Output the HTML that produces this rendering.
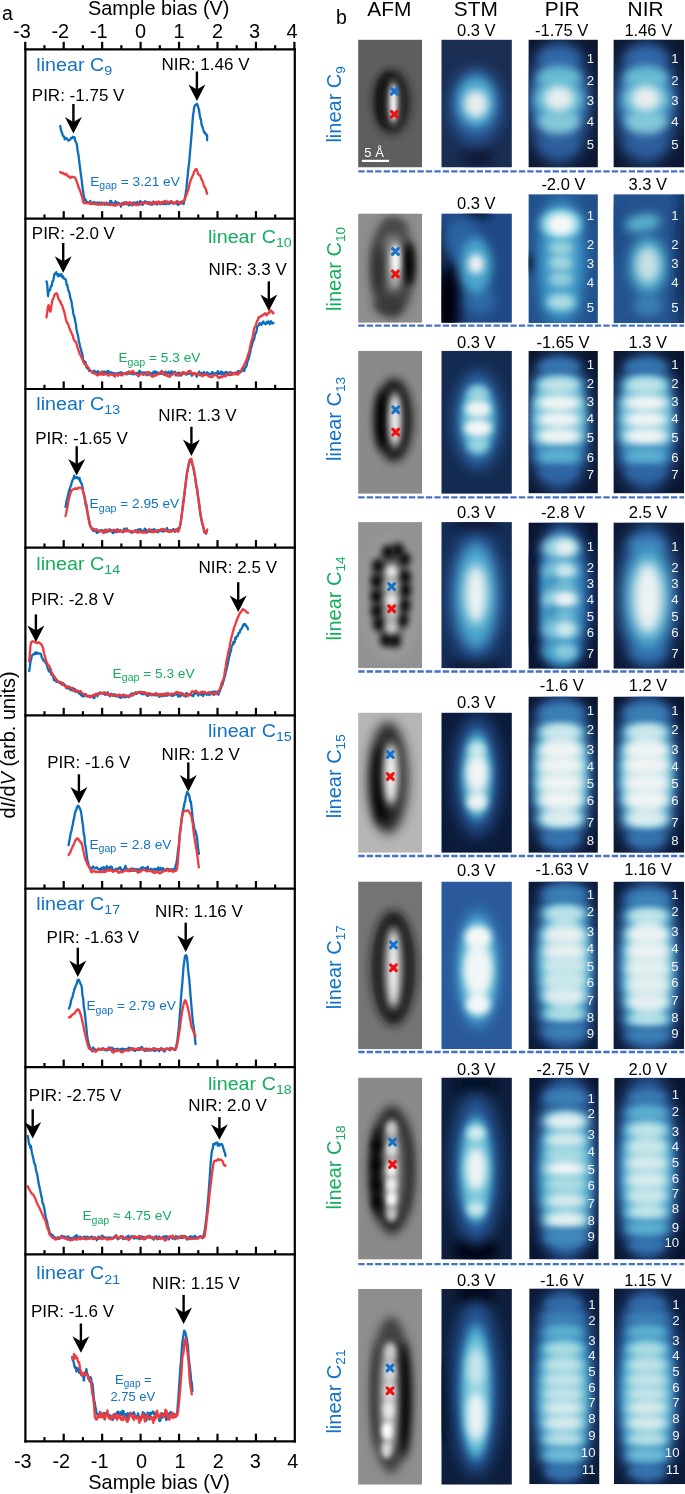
<!DOCTYPE html>
<html><head><meta charset="utf-8"><style>
html,body{margin:0;padding:0;background:#fff;width:685px;height:1494px;overflow:hidden;}
svg{display:block;font-family:"Liberation Sans",sans-serif;will-change:transform;}
</style></head><body>
<svg width="685" height="1494" viewBox="0 0 685 1494">
<defs><filter id="g2_2" x="-60%" y="-60%" width="220%" height="220%"><feGaussianBlur stdDeviation="2.2"/></filter><filter id="g2_6" x="-60%" y="-60%" width="220%" height="220%"><feGaussianBlur stdDeviation="2.6"/></filter><filter id="g2_8" x="-60%" y="-60%" width="220%" height="220%"><feGaussianBlur stdDeviation="2.8"/></filter><filter id="g2_9" x="-60%" y="-60%" width="220%" height="220%"><feGaussianBlur stdDeviation="2.9"/></filter><filter id="g3" x="-60%" y="-60%" width="220%" height="220%"><feGaussianBlur stdDeviation="3"/></filter><filter id="g3_4" x="-60%" y="-60%" width="220%" height="220%"><feGaussianBlur stdDeviation="3.4"/></filter><filter id="g3_5" x="-60%" y="-60%" width="220%" height="220%"><feGaussianBlur stdDeviation="3.5"/></filter><filter id="g3_6" x="-60%" y="-60%" width="220%" height="220%"><feGaussianBlur stdDeviation="3.6"/></filter><filter id="g3_8" x="-60%" y="-60%" width="220%" height="220%"><feGaussianBlur stdDeviation="3.8"/></filter><filter id="g4" x="-60%" y="-60%" width="220%" height="220%"><feGaussianBlur stdDeviation="4"/></filter><filter id="g4_5" x="-60%" y="-60%" width="220%" height="220%"><feGaussianBlur stdDeviation="4.5"/></filter><filter id="g4_8" x="-60%" y="-60%" width="220%" height="220%"><feGaussianBlur stdDeviation="4.8"/></filter><filter id="g5" x="-60%" y="-60%" width="220%" height="220%"><feGaussianBlur stdDeviation="5"/></filter><filter id="g5_5" x="-60%" y="-60%" width="220%" height="220%"><feGaussianBlur stdDeviation="5.5"/></filter><filter id="g6" x="-60%" y="-60%" width="220%" height="220%"><feGaussianBlur stdDeviation="6"/></filter><filter id="g6_5" x="-60%" y="-60%" width="220%" height="220%"><feGaussianBlur stdDeviation="6.5"/></filter><filter id="g7" x="-60%" y="-60%" width="220%" height="220%"><feGaussianBlur stdDeviation="7"/></filter><filter id="g8" x="-60%" y="-60%" width="220%" height="220%"><feGaussianBlur stdDeviation="8"/></filter><clipPath id="c1"><rect x="358.1" y="39.6" width="64.00" height="127.90"/></clipPath><clipPath id="c2"><rect x="441.3" y="39.6" width="70.60" height="127.90"/></clipPath><clipPath id="c3"><rect x="528.4" y="39.6" width="69.50" height="127.90"/></clipPath><clipPath id="c4"><rect x="613.4" y="39.6" width="70.80" height="127.90"/></clipPath><clipPath id="c5"><rect x="358.1" y="213.4" width="64.00" height="109.40"/></clipPath><clipPath id="c6"><rect x="441.3" y="213.4" width="70.60" height="109.40"/></clipPath><clipPath id="c7"><rect x="528.4" y="194.2" width="69.50" height="128.80"/></clipPath><clipPath id="c8"><rect x="613.4" y="194.2" width="70.80" height="128.80"/></clipPath><clipPath id="c9"><rect x="358.1" y="350.7" width="64.00" height="143.10"/></clipPath><clipPath id="c10"><rect x="441.3" y="350.7" width="70.60" height="143.10"/></clipPath><clipPath id="c11"><rect x="528.4" y="351.0" width="69.50" height="142.40"/></clipPath><clipPath id="c12"><rect x="613.4" y="351.0" width="70.80" height="142.40"/></clipPath><clipPath id="c13"><rect x="358.1" y="522.1" width="64.00" height="146.20"/></clipPath><clipPath id="c14"><rect x="441.3" y="522.1" width="70.60" height="146.20"/></clipPath><clipPath id="c15"><rect x="528.4" y="522.4" width="69.50" height="146.40"/></clipPath><clipPath id="c16"><rect x="613.4" y="522.4" width="70.80" height="146.40"/></clipPath><clipPath id="c17"><rect x="358.1" y="712.6" width="64.00" height="140.20"/></clipPath><clipPath id="c18"><rect x="441.3" y="712.6" width="70.60" height="140.20"/></clipPath><clipPath id="c19"><rect x="528.4" y="696.6" width="69.50" height="156.20"/></clipPath><clipPath id="c20"><rect x="613.4" y="696.6" width="70.80" height="156.20"/></clipPath><clipPath id="c21"><rect x="358.1" y="881.5" width="64.00" height="167.70"/></clipPath><clipPath id="c22"><rect x="441.3" y="881.5" width="70.60" height="167.70"/></clipPath><clipPath id="c23"><rect x="528.4" y="881.6" width="69.50" height="167.60"/></clipPath><clipPath id="c24"><rect x="613.4" y="881.6" width="70.80" height="167.60"/></clipPath><clipPath id="c25"><rect x="358.1" y="1077.5" width="64.00" height="182.10"/></clipPath><clipPath id="c26"><rect x="441.3" y="1077.5" width="70.60" height="182.10"/></clipPath><clipPath id="c27"><rect x="529.2" y="1077.8" width="69.50" height="181.60"/></clipPath><clipPath id="c28"><rect x="614.2" y="1077.8" width="70.80" height="181.60"/></clipPath><clipPath id="c29"><rect x="358.1" y="1289.0" width="64.00" height="195.70"/></clipPath><clipPath id="c30"><rect x="441.3" y="1289.0" width="70.60" height="195.70"/></clipPath><clipPath id="c31"><rect x="529.2" y="1288.4" width="70.30" height="195.80"/></clipPath><clipPath id="c32"><rect x="614.0" y="1288.4" width="71.00" height="195.80"/></clipPath></defs><g clip-path="url(#c1)"><rect x="358.1" y="39.6" width="64.00" height="127.90" fill="#5e5e5e"/><ellipse cx="392" cy="102" rx="18" ry="32" fill="#1a1a1a" filter="url(#g4_5)"/><ellipse cx="387" cy="100" rx="9" ry="26" fill="#0c0c0c" filter="url(#g4)"/><ellipse cx="393.3" cy="103" rx="7" ry="24" fill="#707070" filter="url(#g3)"/><ellipse cx="393.3" cy="103" rx="3.2" ry="18" fill="#ffffff" filter="url(#g2_2)"/></g><path d="M391.40000000000003,88.3 L397.2,94.10000000000001 M391.40000000000003,94.10000000000001 L397.2,88.3" stroke="#1673C9" stroke-width="3.1" stroke-linecap="round"/><path d="M391.40000000000003,111.3 L397.2,117.10000000000001 M391.40000000000003,117.10000000000001 L397.2,111.3" stroke="#F01010" stroke-width="3.1" stroke-linecap="round"/><line x1="361.9" y1="160.9" x2="389.1" y2="160.9" stroke="#fff" stroke-width="2.2"/><text x="364.3" y="156.6" font-size="13" fill="#fff">5 Å</text><g clip-path="url(#c2)"><rect x="441.3" y="39.6" width="70.60" height="127.90" fill="#1a2d53"/><ellipse cx="478" cy="158" rx="16" ry="7" fill="#0c1834" filter="url(#g4)"/><ellipse cx="476" cy="106" rx="27" ry="38" fill="#2b5d9c" filter="url(#g7)"/><ellipse cx="476" cy="102" rx="19" ry="26" fill="#4aa6cc" filter="url(#g5)"/><ellipse cx="476" cy="104" rx="12" ry="14" fill="#e8eeee" filter="url(#g4_5)"/></g><g clip-path="url(#c3)"><rect x="528.4" y="39.6" width="69.50" height="127.90" fill="#0c1730"/><ellipse cx="559" cy="103" rx="32" ry="62" fill="#2a5898" filter="url(#g8)"/><ellipse cx="559" cy="58" rx="21" ry="10" fill="#3268a8" filter="url(#g5)"/><ellipse cx="559" cy="143.5" rx="20" ry="10" fill="#2e5e9e" filter="url(#g5)"/><ellipse cx="559" cy="100" rx="26" ry="32" fill="#3f8cc0" filter="url(#g6)"/><ellipse cx="559" cy="77.5" rx="22" ry="11" fill="#66bcd2" filter="url(#g4_5)"/><ellipse cx="559" cy="121.5" rx="21" ry="12" fill="#84c8d8" filter="url(#g4_5)"/><ellipse cx="559" cy="99" rx="23" ry="16" fill="#74c4d8" filter="url(#g5)"/><ellipse cx="559" cy="98.5" rx="14" ry="12" fill="#e8eeee" filter="url(#g4_5)"/></g><g clip-path="url(#c4)"><rect x="613.4" y="39.6" width="70.80" height="127.90" fill="#0c1730"/><ellipse cx="646" cy="103" rx="32" ry="62" fill="#2a5898" filter="url(#g8)"/><ellipse cx="646" cy="58" rx="21" ry="10" fill="#3268a8" filter="url(#g5)"/><ellipse cx="646" cy="143.5" rx="20" ry="10" fill="#2e5e9e" filter="url(#g5)"/><ellipse cx="646" cy="100" rx="26" ry="32" fill="#3f8cc0" filter="url(#g6)"/><ellipse cx="646" cy="77.5" rx="22" ry="11" fill="#66bcd2" filter="url(#g4_5)"/><ellipse cx="646" cy="121.5" rx="21" ry="12" fill="#84c8d8" filter="url(#g4_5)"/><ellipse cx="646" cy="99" rx="23" ry="16" fill="#74c4d8" filter="url(#g5)"/><ellipse cx="646" cy="98.5" rx="14" ry="12" fill="#e8eeee" filter="url(#g4_5)"/></g><text x="594.2" y="63.3" font-size="13.2" fill="#f2f2f2" text-anchor="end">1</text><text x="594.2" y="84.6" font-size="13.2" fill="#f2f2f2" text-anchor="end">2</text><text x="594.2" y="104.5" font-size="13.2" fill="#f2f2f2" text-anchor="end">3</text><text x="594.2" y="125.5" font-size="13.2" fill="#f2f2f2" text-anchor="end">4</text><text x="594.2" y="148.5" font-size="13.2" fill="#f2f2f2" text-anchor="end">5</text><text x="678.6" y="63.3" font-size="13.2" fill="#f2f2f2" text-anchor="end">1</text><text x="678.6" y="84.6" font-size="13.2" fill="#f2f2f2" text-anchor="end">2</text><text x="678.6" y="104.5" font-size="13.2" fill="#f2f2f2" text-anchor="end">3</text><text x="678.6" y="125.5" font-size="13.2" fill="#f2f2f2" text-anchor="end">4</text><text x="678.6" y="148.5" font-size="13.2" fill="#f2f2f2" text-anchor="end">5</text><g clip-path="url(#c5)"><rect x="358.1" y="213.4" width="64.00" height="109.40" fill="#8e8e8e"/><ellipse cx="392" cy="268" rx="22" ry="50" fill="#3c3c3c" filter="url(#g5)"/><ellipse cx="393" cy="262" rx="13" ry="32" fill="#7c7c7c" filter="url(#g5)"/><ellipse cx="409" cy="264" rx="5.5" ry="22" fill="#050505" filter="url(#g3_5)"/><ellipse cx="379" cy="268" rx="5" ry="24" fill="#2c2c2c" filter="url(#g4)"/><ellipse cx="388" cy="306" rx="14" ry="7" fill="#383838" filter="url(#g4)"/><ellipse cx="395" cy="226" rx="12" ry="6" fill="#4a4a4a" filter="url(#g4)"/><ellipse cx="395" cy="265" rx="5" ry="22" fill="#b8b8b8" filter="url(#g3)"/><ellipse cx="395.5" cy="260" rx="3.8" ry="15" fill="#fdfdfd" filter="url(#g2_6)"/></g><path d="M392.5,248.5 L398.29999999999995,254.3 M392.5,254.3 L398.29999999999995,248.5" stroke="#1673C9" stroke-width="3.1" stroke-linecap="round"/><path d="M392.5,271.0 L398.29999999999995,276.79999999999995 M392.5,276.79999999999995 L398.29999999999995,271.0" stroke="#F01010" stroke-width="3.1" stroke-linecap="round"/><g clip-path="url(#c6)"><rect x="441.3" y="213.4" width="70.60" height="109.40" fill="#1f4a86"/><ellipse cx="448" cy="302" rx="13" ry="40" fill="#000308" filter="url(#g6)"/><ellipse cx="443" cy="250" rx="5" ry="25" fill="#0a1a30" filter="url(#g5)"/><ellipse cx="478" cy="213" rx="14" ry="6" fill="#0b1a38" filter="url(#g4)"/><ellipse cx="462" cy="238" rx="18" ry="20" fill="#2a64a2" filter="url(#g6)"/><ellipse cx="480" cy="300" rx="15" ry="15" fill="#2f6aa8" filter="url(#g6)"/><ellipse cx="476" cy="266" rx="16" ry="28" fill="#48a6cc" filter="url(#g5)"/><ellipse cx="476" cy="264" rx="8" ry="10" fill="#eef2f2" filter="url(#g3_5)"/></g><g clip-path="url(#c7)"><rect x="528.4" y="194.2" width="69.50" height="128.80" fill="#21508c"/><ellipse cx="531" cy="263" rx="5" ry="10" fill="#06122a" filter="url(#g4)"/><ellipse cx="561" cy="263.0" rx="24" ry="70" fill="#3480b8" filter="url(#g8)"/><ellipse cx="561" cy="263.0" rx="20" ry="48.0" fill="#3c94c6" filter="url(#g5)"/><ellipse cx="561" cy="224" rx="18.525" ry="11.6" fill="#89c9db" filter="url(#g5)"/><ellipse cx="561" cy="248" rx="15.600000000000001" ry="11.6" fill="#469cc6" filter="url(#g5)"/><ellipse cx="561" cy="263" rx="15.600000000000001" ry="11.6" fill="#479fc8" filter="url(#g5)"/><ellipse cx="561" cy="279" rx="15.600000000000001" ry="11.6" fill="#4498c4" filter="url(#g5)"/><ellipse cx="561" cy="302" rx="17.55" ry="11.6" fill="#4aa5cb" filter="url(#g5)"/><ellipse cx="561" cy="224" rx="14.25" ry="8" fill="#f0f4f4" filter="url(#g3_8)"/><ellipse cx="561" cy="248" rx="12.0" ry="8" fill="#97d2de" filter="url(#g3_8)"/><ellipse cx="561" cy="263" rx="12.0" ry="8" fill="#9fd6e0" filter="url(#g3_8)"/><ellipse cx="561" cy="279" rx="12.0" ry="8" fill="#90cedd" filter="url(#g3_8)"/><ellipse cx="561" cy="302" rx="13.5" ry="8" fill="#abdce3" filter="url(#g3_8)"/><ellipse cx="561" cy="224" rx="20" ry="15" fill="#6cc8dc" filter="url(#g5)"/><ellipse cx="561" cy="224.5" rx="14" ry="11" fill="#f6f8f8" filter="url(#g3_8)"/></g><g clip-path="url(#c8)"><rect x="613.4" y="194.2" width="70.80" height="128.80" fill="#24538f"/><ellipse cx="686" cy="260" rx="8" ry="80" fill="#0e1e40" filter="url(#g7)"/><ellipse cx="616" cy="230" rx="6" ry="30" fill="#1e4a86" filter="url(#g6)"/><ellipse cx="643" cy="223" rx="18" ry="9" fill="#58b0cc" filter="url(#g5)" transform="rotate(-10 643 223)"/><ellipse cx="648" cy="306" rx="15" ry="10" fill="#3a80b4" filter="url(#g5)"/><ellipse cx="648" cy="266" rx="19" ry="30" fill="#46a4c8" filter="url(#g6)"/><ellipse cx="648" cy="265" rx="12" ry="18" fill="#c4e0e4" filter="url(#g5)"/></g><text x="594.2" y="220.4" font-size="13.2" fill="#f2f2f2" text-anchor="end">1</text><text x="594.2" y="248.7" font-size="13.2" fill="#f2f2f2" text-anchor="end">2</text><text x="594.2" y="268.4" font-size="13.2" fill="#f2f2f2" text-anchor="end">3</text><text x="594.2" y="287.0" font-size="13.2" fill="#f2f2f2" text-anchor="end">4</text><text x="594.2" y="311.6" font-size="13.2" fill="#f2f2f2" text-anchor="end">5</text><text x="678.6" y="220.4" font-size="13.2" fill="#f2f2f2" text-anchor="end">1</text><text x="678.6" y="248.7" font-size="13.2" fill="#f2f2f2" text-anchor="end">2</text><text x="678.6" y="268.4" font-size="13.2" fill="#f2f2f2" text-anchor="end">3</text><text x="678.6" y="287.0" font-size="13.2" fill="#f2f2f2" text-anchor="end">4</text><text x="678.6" y="311.6" font-size="13.2" fill="#f2f2f2" text-anchor="end">5</text><g clip-path="url(#c9)"><rect x="358.1" y="350.7" width="64.00" height="143.10" fill="#8a8a8a"/><ellipse cx="394" cy="420" rx="19" ry="42" fill="#1c1c1c" filter="url(#g4_5)"/><ellipse cx="382" cy="420" rx="6" ry="30" fill="#000" filter="url(#g4)"/><ellipse cx="395" cy="420" rx="8" ry="30" fill="#777" filter="url(#g3)"/><ellipse cx="395" cy="420" rx="4.5" ry="24" fill="#f6f6f6" filter="url(#g3)"/></g><path d="M392.8,406.90000000000003 L398.59999999999997,412.7 M392.8,412.7 L398.59999999999997,406.90000000000003" stroke="#1673C9" stroke-width="3.1" stroke-linecap="round"/><path d="M392.8,429.20000000000005 L398.59999999999997,435.0 M392.8,435.0 L398.59999999999997,429.20000000000005" stroke="#F01010" stroke-width="3.1" stroke-linecap="round"/><g clip-path="url(#c10)"><rect x="441.3" y="350.7" width="70.60" height="143.10" fill="#142a50"/><ellipse cx="478" cy="420" rx="25" ry="50" fill="#2a5d9c" filter="url(#g7)"/><ellipse cx="478" cy="420" rx="17" ry="36" fill="#4aa8cc" filter="url(#g4_5)"/><ellipse cx="478" cy="418" rx="13" ry="28" fill="#70c0d8" filter="url(#g4)"/><ellipse cx="478" cy="394" rx="10" ry="7.5" fill="#9ad4e0" filter="url(#g3_5)"/><ellipse cx="478" cy="445" rx="10" ry="7.5" fill="#9ad4e0" filter="url(#g3_5)"/><ellipse cx="478" cy="409" rx="12.5" ry="8.5" fill="#f0f4f4" filter="url(#g3_4)"/><ellipse cx="478" cy="428" rx="13.5" ry="8.5" fill="#f4f6f6" filter="url(#g3_4)"/></g><g clip-path="url(#c11)"><rect x="528.4" y="351.0" width="69.50" height="142.40" fill="#0b1630"/><ellipse cx="559" cy="423" rx="33" ry="70" fill="#2a5a9a" filter="url(#g8)"/><ellipse cx="559" cy="420.7" rx="26" ry="44.5" fill="#44a4ca" filter="url(#g5)"/><ellipse cx="559" cy="385.2" rx="25.35" ry="11.6" fill="#5bb0d0" filter="url(#g4_8)"/><ellipse cx="559" cy="403" rx="26.617500000000003" ry="11.6" fill="#89c9db" filter="url(#g4_8)"/><ellipse cx="559" cy="419.5" rx="26.617500000000003" ry="11.6" fill="#89c9db" filter="url(#g4_8)"/><ellipse cx="559" cy="436" rx="26.617500000000003" ry="11.6" fill="#89c9db" filter="url(#g4_8)"/><ellipse cx="559" cy="456.2" rx="25.35" ry="11.6" fill="#3b82b7" filter="url(#g4_8)"/><ellipse cx="559" cy="410.6" rx="20" ry="29.400000000000006" fill="#78c4d8" filter="url(#g4_5)"/><ellipse cx="559" cy="366.3" rx="21.450000000000003" ry="8" fill="#3575af" filter="url(#g3_6)"/><ellipse cx="559" cy="385.2" rx="19.5" ry="8" fill="#bfe3e8" filter="url(#g3_6)"/><ellipse cx="559" cy="403" rx="20.475" ry="8" fill="#f0f4f4" filter="url(#g3_6)"/><ellipse cx="559" cy="419.5" rx="20.475" ry="8" fill="#f0f4f4" filter="url(#g3_6)"/><ellipse cx="559" cy="436" rx="20.475" ry="8" fill="#f0f4f4" filter="url(#g3_6)"/><ellipse cx="559" cy="456.2" rx="19.5" ry="8" fill="#5cb0d0" filter="url(#g3_6)"/><ellipse cx="559" cy="472.7" rx="19.5" ry="8" fill="#2f66a6" filter="url(#g3_6)"/></g><g clip-path="url(#c12)"><rect x="613.4" y="351.0" width="70.80" height="142.40" fill="#0b1630"/><ellipse cx="645.8" cy="423" rx="33" ry="70" fill="#2a5a9a" filter="url(#g8)"/><ellipse cx="645.8" cy="420.7" rx="26" ry="44.5" fill="#44a4ca" filter="url(#g5)"/><ellipse cx="645.8" cy="385.2" rx="25.35" ry="11.6" fill="#5bb0d0" filter="url(#g4_8)"/><ellipse cx="645.8" cy="403" rx="26.617500000000003" ry="11.6" fill="#89c9db" filter="url(#g4_8)"/><ellipse cx="645.8" cy="419.5" rx="26.617500000000003" ry="11.6" fill="#89c9db" filter="url(#g4_8)"/><ellipse cx="645.8" cy="436" rx="26.617500000000003" ry="11.6" fill="#89c9db" filter="url(#g4_8)"/><ellipse cx="645.8" cy="456.2" rx="25.35" ry="11.6" fill="#3b82b7" filter="url(#g4_8)"/><ellipse cx="645.8" cy="410.6" rx="20" ry="29.400000000000006" fill="#78c4d8" filter="url(#g4_5)"/><ellipse cx="645.8" cy="366.3" rx="21.450000000000003" ry="8" fill="#3575af" filter="url(#g3_6)"/><ellipse cx="645.8" cy="385.2" rx="19.5" ry="8" fill="#bfe3e8" filter="url(#g3_6)"/><ellipse cx="645.8" cy="403" rx="20.475" ry="8" fill="#f0f4f4" filter="url(#g3_6)"/><ellipse cx="645.8" cy="419.5" rx="20.475" ry="8" fill="#f0f4f4" filter="url(#g3_6)"/><ellipse cx="645.8" cy="436" rx="20.475" ry="8" fill="#f0f4f4" filter="url(#g3_6)"/><ellipse cx="645.8" cy="456.2" rx="19.5" ry="8" fill="#5cb0d0" filter="url(#g3_6)"/><ellipse cx="645.8" cy="472.7" rx="19.5" ry="8" fill="#2f66a6" filter="url(#g3_6)"/></g><text x="594.2" y="368.6" font-size="13.2" fill="#f2f2f2" text-anchor="end">1</text><text x="594.2" y="387.5" font-size="13.2" fill="#f2f2f2" text-anchor="end">2</text><text x="594.2" y="405.6" font-size="13.2" fill="#f2f2f2" text-anchor="end">3</text><text x="594.2" y="423.2" font-size="13.2" fill="#f2f2f2" text-anchor="end">4</text><text x="594.2" y="442.0" font-size="13.2" fill="#f2f2f2" text-anchor="end">5</text><text x="594.2" y="462.3" font-size="13.2" fill="#f2f2f2" text-anchor="end">6</text><text x="594.2" y="479.3" font-size="13.2" fill="#f2f2f2" text-anchor="end">7</text><text x="678.6" y="368.6" font-size="13.2" fill="#f2f2f2" text-anchor="end">1</text><text x="678.6" y="387.5" font-size="13.2" fill="#f2f2f2" text-anchor="end">2</text><text x="678.6" y="405.6" font-size="13.2" fill="#f2f2f2" text-anchor="end">3</text><text x="678.6" y="423.2" font-size="13.2" fill="#f2f2f2" text-anchor="end">4</text><text x="678.6" y="442.0" font-size="13.2" fill="#f2f2f2" text-anchor="end">5</text><text x="678.6" y="462.3" font-size="13.2" fill="#f2f2f2" text-anchor="end">6</text><text x="678.6" y="479.3" font-size="13.2" fill="#f2f2f2" text-anchor="end">7</text><g clip-path="url(#c13)"><rect x="358.1" y="522.1" width="64.00" height="146.20" fill="#929292"/><ellipse cx="391" cy="598" rx="26" ry="58" fill="#a4a4a4" filter="url(#g7)"/><ellipse cx="391" cy="596" rx="19" ry="46" fill="#606060" filter="url(#g5)"/><ellipse cx="378" cy="566" rx="6" ry="7" fill="#000000" filter="url(#g3_6)"/><ellipse cx="376.6" cy="581" rx="6" ry="7" fill="#000000" filter="url(#g3_6)"/><ellipse cx="376.6" cy="596.4" rx="6" ry="7" fill="#000000" filter="url(#g3_6)"/><ellipse cx="377" cy="611" rx="6" ry="7" fill="#000000" filter="url(#g3_6)"/><ellipse cx="379" cy="624" rx="6" ry="7" fill="#000000" filter="url(#g3_6)"/><ellipse cx="404.5" cy="559.2" rx="6" ry="7" fill="#000000" filter="url(#g3_6)"/><ellipse cx="405" cy="576.8" rx="6" ry="7" fill="#000000" filter="url(#g3_6)"/><ellipse cx="405" cy="590.2" rx="6" ry="7" fill="#000000" filter="url(#g3_6)"/><ellipse cx="404" cy="605.6" rx="6" ry="7" fill="#000000" filter="url(#g3_6)"/><ellipse cx="402" cy="620" rx="6" ry="7" fill="#000000" filter="url(#g3_6)"/><ellipse cx="386" cy="640" rx="6" ry="7" fill="#000000" filter="url(#g3_6)"/><ellipse cx="395" cy="641" rx="6" ry="7" fill="#000000" filter="url(#g3_6)"/><ellipse cx="388" cy="552" rx="6" ry="7" fill="#000000" filter="url(#g3_6)"/><ellipse cx="398" cy="550" rx="6" ry="7" fill="#000000" filter="url(#g3_6)"/><ellipse cx="391.6" cy="599" rx="6" ry="30" fill="#a0a0a0" filter="url(#g4)"/><ellipse cx="391.6" cy="571.6" rx="6" ry="6.5" fill="#f0f0f0" filter="url(#g3)"/><ellipse cx="391.6" cy="586" rx="6" ry="6.5" fill="#d0d0d0" filter="url(#g3)"/><ellipse cx="391.6" cy="600.5" rx="6" ry="6.5" fill="#f4f4f4" filter="url(#g3)"/><ellipse cx="391.6" cy="614" rx="6" ry="6.5" fill="#c0c0c0" filter="url(#g3)"/><ellipse cx="391.6" cy="627.3" rx="6" ry="6.5" fill="#d0d0d0" filter="url(#g3)"/></g><path d="M388.70000000000005,583.7 L394.5,589.5 M388.70000000000005,589.5 L394.5,583.7" stroke="#1673C9" stroke-width="3.1" stroke-linecap="round"/><path d="M388.70000000000005,605.8000000000001 L394.5,611.6 M388.70000000000005,611.6 L394.5,605.8000000000001" stroke="#F01010" stroke-width="3.1" stroke-linecap="round"/><g clip-path="url(#c14)"><rect x="441.3" y="522.1" width="70.60" height="146.20" fill="#142c55"/><ellipse cx="476" cy="525" rx="20" ry="8" fill="#081530" filter="url(#g4)"/><ellipse cx="476" cy="666" rx="25" ry="8" fill="#081530" filter="url(#g4)"/><ellipse cx="476" cy="596" rx="28" ry="64" fill="#2a5c9c" filter="url(#g8)"/><ellipse cx="476" cy="596" rx="20" ry="52" fill="#4aa8cc" filter="url(#g6)"/><ellipse cx="476" cy="594" rx="11" ry="30" fill="#f0f4f4" filter="url(#g5_5)"/></g><g clip-path="url(#c15)"><rect x="528.4" y="522.4" width="69.50" height="146.40" fill="#0a1430"/><ellipse cx="563" cy="596" rx="30" ry="76" fill="#24508e" filter="url(#g8)"/><ellipse cx="562" cy="598" rx="21" ry="68" fill="#3a8cc2" filter="url(#g6)"/><ellipse cx="531" cy="600" rx="5" ry="50" fill="#070f24" filter="url(#g4)"/><ellipse cx="561" cy="547.6" rx="19" ry="11" fill="#99d3df" filter="url(#g4_5)"/><ellipse cx="561" cy="571.2" rx="19" ry="11" fill="#7fc4d9" filter="url(#g4_5)"/><ellipse cx="561" cy="585.4" rx="19" ry="11" fill="#4395c2" filter="url(#g4_5)"/><ellipse cx="561" cy="599.6" rx="19" ry="11" fill="#9ed6e0" filter="url(#g4_5)"/><ellipse cx="561" cy="615" rx="19" ry="11" fill="#4395c2" filter="url(#g4_5)"/><ellipse cx="561" cy="629.2" rx="19" ry="11" fill="#7fc4d9" filter="url(#g4_5)"/><ellipse cx="561" cy="651.6" rx="19" ry="11" fill="#48a2ca" filter="url(#g4_5)"/><ellipse cx="565" cy="547.6" rx="9.9" ry="7.5" fill="#e4f0f1" filter="url(#g3_4)"/><ellipse cx="565" cy="571.2" rx="9.35" ry="7.5" fill="#cbe7eb" filter="url(#g3_4)"/><ellipse cx="565" cy="585.4" rx="8.8" ry="7.5" fill="#6fbbd5" filter="url(#g3_4)"/><ellipse cx="565" cy="599.6" rx="9.9" ry="7.5" fill="#e9f1f2" filter="url(#g3_4)"/><ellipse cx="565" cy="615" rx="8.8" ry="7.5" fill="#6fbbd5" filter="url(#g3_4)"/><ellipse cx="565" cy="629.2" rx="9.35" ry="7.5" fill="#cbe7eb" filter="url(#g3_4)"/><ellipse cx="565" cy="651.6" rx="10.45" ry="7.5" fill="#89c9db" filter="url(#g3_4)"/></g><g clip-path="url(#c16)"><rect x="613.4" y="522.4" width="70.80" height="146.40" fill="#0c1834"/><ellipse cx="648" cy="596" rx="31" ry="74" fill="#2a5a98" filter="url(#g8)"/><ellipse cx="646" cy="545" rx="18" ry="10" fill="#3a7cb8" filter="url(#g5)"/><ellipse cx="648" cy="652" rx="18" ry="10" fill="#2e68a8" filter="url(#g5)"/><ellipse cx="648" cy="598" rx="23" ry="52" fill="#4aa8cc" filter="url(#g6_5)"/><ellipse cx="648" cy="598" rx="15" ry="36" fill="#eef3f3" filter="url(#g6)"/></g><text x="594.2" y="551.3" font-size="13.2" fill="#f2f2f2" text-anchor="end">1</text><text x="594.2" y="571.8" font-size="13.2" fill="#f2f2f2" text-anchor="end">2</text><text x="594.2" y="587.8" font-size="13.2" fill="#f2f2f2" text-anchor="end">3</text><text x="594.2" y="604.0" font-size="13.2" fill="#f2f2f2" text-anchor="end">4</text><text x="594.2" y="621.0" font-size="13.2" fill="#f2f2f2" text-anchor="end">5</text><text x="594.2" y="636.6" font-size="13.2" fill="#f2f2f2" text-anchor="end">6</text><text x="594.2" y="658.0" font-size="13.2" fill="#f2f2f2" text-anchor="end">7</text><text x="678.6" y="551.3" font-size="13.2" fill="#f2f2f2" text-anchor="end">1</text><text x="678.6" y="571.8" font-size="13.2" fill="#f2f2f2" text-anchor="end">2</text><text x="678.6" y="587.8" font-size="13.2" fill="#f2f2f2" text-anchor="end">3</text><text x="678.6" y="604.0" font-size="13.2" fill="#f2f2f2" text-anchor="end">4</text><text x="678.6" y="621.0" font-size="13.2" fill="#f2f2f2" text-anchor="end">5</text><text x="678.6" y="636.6" font-size="13.2" fill="#f2f2f2" text-anchor="end">6</text><text x="678.6" y="658.0" font-size="13.2" fill="#f2f2f2" text-anchor="end">7</text><g clip-path="url(#c17)"><rect x="358.1" y="712.6" width="64.00" height="140.20" fill="#b6b6b6"/><ellipse cx="388" cy="778" rx="20" ry="56" fill="#262626" filter="url(#g6)"/><ellipse cx="381" cy="785" rx="8" ry="40" fill="#000" filter="url(#g5)"/><ellipse cx="391" cy="774" rx="9" ry="34" fill="#8a8a8a" filter="url(#g4)"/><ellipse cx="391" cy="774" rx="5" ry="28" fill="#fafafa" filter="url(#g3_5)"/></g><path d="M387.40000000000003,751.6 L393.2,757.4 M387.40000000000003,757.4 L393.2,751.6" stroke="#1673C9" stroke-width="3.1" stroke-linecap="round"/><path d="M387.40000000000003,773.6 L393.2,779.4 M387.40000000000003,779.4 L393.2,773.6" stroke="#F01010" stroke-width="3.1" stroke-linecap="round"/><g clip-path="url(#c18)"><rect x="441.3" y="712.6" width="70.60" height="140.20" fill="#0c1a3a"/><ellipse cx="477" cy="776" rx="23" ry="60" fill="#265494" filter="url(#g8)"/><ellipse cx="477" cy="776" rx="15" ry="44" fill="#4aaccc" filter="url(#g4_5)"/><ellipse cx="477" cy="776" rx="9" ry="32" fill="#b8dee6" filter="url(#g4)"/><ellipse cx="477" cy="749" rx="8" ry="7" fill="#c8e8ec" filter="url(#g3_5)"/><ellipse cx="477" cy="773" rx="10" ry="17" fill="#f4f6f6" filter="url(#g4)"/><ellipse cx="477" cy="802" rx="10" ry="9" fill="#f0f4f4" filter="url(#g3_5)"/></g><g clip-path="url(#c19)"><rect x="528.4" y="696.6" width="69.50" height="156.20" fill="#0b1630"/><ellipse cx="561" cy="775" rx="33" ry="82" fill="#2a5a9a" filter="url(#g8)"/><ellipse cx="561" cy="775.35" rx="26" ry="52.14999999999998" fill="#4aaed0" filter="url(#g5)"/><ellipse cx="561" cy="713.3" rx="25.35" ry="11.889999999999999" fill="#2e63a2" filter="url(#g5)"/><ellipse cx="561" cy="732.2" rx="25.35" ry="11.889999999999999" fill="#66b6d3" filter="url(#g5)"/><ellipse cx="561" cy="750" rx="26.617500000000003" ry="11.889999999999999" fill="#89c9db" filter="url(#g5)"/><ellipse cx="561" cy="765.3" rx="26.617500000000003" ry="11.889999999999999" fill="#89c9db" filter="url(#g5)"/><ellipse cx="561" cy="783" rx="26.617500000000003" ry="11.889999999999999" fill="#89c9db" filter="url(#g5)"/><ellipse cx="561" cy="799.6" rx="26.617500000000003" ry="11.889999999999999" fill="#89c9db" filter="url(#g5)"/><ellipse cx="561" cy="818.5" rx="25.35" ry="11.889999999999999" fill="#76bfd7" filter="url(#g5)"/><ellipse cx="561" cy="775.35" rx="21" ry="47.14999999999998" fill="#c4e2e8" filter="url(#g4_5)"/><ellipse cx="561" cy="713.3" rx="19.5" ry="8.2" fill="#3a80b5" filter="url(#g3_8)"/><ellipse cx="561" cy="732.2" rx="19.5" ry="8.2" fill="#cbe7eb" filter="url(#g3_8)"/><ellipse cx="561" cy="750" rx="20.475" ry="8.2" fill="#f0f4f4" filter="url(#g3_8)"/><ellipse cx="561" cy="765.3" rx="20.475" ry="8.2" fill="#f0f4f4" filter="url(#g3_8)"/><ellipse cx="561" cy="783" rx="20.475" ry="8.2" fill="#f0f4f4" filter="url(#g3_8)"/><ellipse cx="561" cy="799.6" rx="20.475" ry="8.2" fill="#f0f4f4" filter="url(#g3_8)"/><ellipse cx="561" cy="818.5" rx="19.5" ry="8.2" fill="#dcedef" filter="url(#g3_8)"/><ellipse cx="561" cy="838.6" rx="19.5" ry="8.2" fill="#3473ae" filter="url(#g3_8)"/></g><g clip-path="url(#c20)"><rect x="613.4" y="696.6" width="70.80" height="156.20" fill="#0b1630"/><ellipse cx="646.5" cy="775" rx="33" ry="82" fill="#2a5a9a" filter="url(#g8)"/><ellipse cx="646.5" cy="775.35" rx="26" ry="52.14999999999998" fill="#4aaed0" filter="url(#g5)"/><ellipse cx="646.5" cy="713.3" rx="25.35" ry="11.889999999999999" fill="#2e63a2" filter="url(#g5)"/><ellipse cx="646.5" cy="732.2" rx="25.35" ry="11.889999999999999" fill="#66b6d3" filter="url(#g5)"/><ellipse cx="646.5" cy="750" rx="26.617500000000003" ry="11.889999999999999" fill="#89c9db" filter="url(#g5)"/><ellipse cx="646.5" cy="765.3" rx="26.617500000000003" ry="11.889999999999999" fill="#89c9db" filter="url(#g5)"/><ellipse cx="646.5" cy="783" rx="26.617500000000003" ry="11.889999999999999" fill="#89c9db" filter="url(#g5)"/><ellipse cx="646.5" cy="799.6" rx="26.617500000000003" ry="11.889999999999999" fill="#89c9db" filter="url(#g5)"/><ellipse cx="646.5" cy="818.5" rx="25.35" ry="11.889999999999999" fill="#76bfd7" filter="url(#g5)"/><ellipse cx="646.5" cy="775.35" rx="21" ry="47.14999999999998" fill="#c8e4ea" filter="url(#g4_5)"/><ellipse cx="646.5" cy="713.3" rx="19.5" ry="8.2" fill="#3a80b5" filter="url(#g3_8)"/><ellipse cx="646.5" cy="732.2" rx="19.5" ry="8.2" fill="#cbe7eb" filter="url(#g3_8)"/><ellipse cx="646.5" cy="750" rx="20.475" ry="8.2" fill="#f0f4f4" filter="url(#g3_8)"/><ellipse cx="646.5" cy="765.3" rx="20.475" ry="8.2" fill="#f0f4f4" filter="url(#g3_8)"/><ellipse cx="646.5" cy="783" rx="20.475" ry="8.2" fill="#f0f4f4" filter="url(#g3_8)"/><ellipse cx="646.5" cy="799.6" rx="20.475" ry="8.2" fill="#f0f4f4" filter="url(#g3_8)"/><ellipse cx="646.5" cy="818.5" rx="19.5" ry="8.2" fill="#dcedef" filter="url(#g3_8)"/><ellipse cx="646.5" cy="838.6" rx="19.5" ry="8.2" fill="#3473ae" filter="url(#g3_8)"/></g><text x="594.2" y="715.0" font-size="13.2" fill="#f2f2f2" text-anchor="end">1</text><text x="594.2" y="733.9" font-size="13.2" fill="#f2f2f2" text-anchor="end">2</text><text x="594.2" y="754.1" font-size="13.2" fill="#f2f2f2" text-anchor="end">3</text><text x="594.2" y="770.9" font-size="13.2" fill="#f2f2f2" text-anchor="end">4</text><text x="594.2" y="787.9" font-size="13.2" fill="#f2f2f2" text-anchor="end">5</text><text x="594.2" y="804.6" font-size="13.2" fill="#f2f2f2" text-anchor="end">6</text><text x="594.2" y="826.5" font-size="13.2" fill="#f2f2f2" text-anchor="end">7</text><text x="594.2" y="845.4" font-size="13.2" fill="#f2f2f2" text-anchor="end">8</text><text x="678.6" y="715.0" font-size="13.2" fill="#f2f2f2" text-anchor="end">1</text><text x="678.6" y="733.9" font-size="13.2" fill="#f2f2f2" text-anchor="end">2</text><text x="678.6" y="754.1" font-size="13.2" fill="#f2f2f2" text-anchor="end">3</text><text x="678.6" y="770.9" font-size="13.2" fill="#f2f2f2" text-anchor="end">4</text><text x="678.6" y="787.9" font-size="13.2" fill="#f2f2f2" text-anchor="end">5</text><text x="678.6" y="804.6" font-size="13.2" fill="#f2f2f2" text-anchor="end">6</text><text x="678.6" y="826.5" font-size="13.2" fill="#f2f2f2" text-anchor="end">7</text><text x="678.6" y="845.4" font-size="13.2" fill="#f2f2f2" text-anchor="end">8</text><g clip-path="url(#c21)"><rect x="358.1" y="881.5" width="64.00" height="167.70" fill="#747474"/><ellipse cx="393.4" cy="968" rx="22" ry="57" fill="#121212" filter="url(#g5)"/><ellipse cx="393.4" cy="968" rx="11" ry="44" fill="#6a6a6a" filter="url(#g4)"/><ellipse cx="393.4" cy="968" rx="5.5" ry="38" fill="#f4f4f4" filter="url(#g3_5)"/></g><path d="M390.5,942.0 L396.29999999999995,947.8 M390.5,947.8 L396.29999999999995,942.0" stroke="#1673C9" stroke-width="3.1" stroke-linecap="round"/><path d="M390.5,964.8000000000001 L396.29999999999995,970.6 M390.5,970.6 L396.29999999999995,964.8000000000001" stroke="#F01010" stroke-width="3.1" stroke-linecap="round"/><g clip-path="url(#c22)"><rect x="441.3" y="881.5" width="70.60" height="167.70" fill="#2a5a9c"/><ellipse cx="478" cy="969" rx="22" ry="60" fill="#3c88c0" filter="url(#g6)"/><ellipse cx="478" cy="969" rx="18" ry="50" fill="#58b8d6" filter="url(#g4_5)"/><ellipse cx="478" cy="970" rx="12" ry="38" fill="#d8eef0" filter="url(#g4)"/><ellipse cx="478" cy="937" rx="13" ry="11" fill="#f6f8f8" filter="url(#g3_5)"/><ellipse cx="478" cy="970" rx="13" ry="22" fill="#f2f6f6" filter="url(#g4)"/><ellipse cx="478" cy="1005" rx="12" ry="10" fill="#f6f8f8" filter="url(#g3_5)"/></g><g clip-path="url(#c23)"><rect x="528.4" y="881.6" width="69.50" height="167.60" fill="#0c1a38"/><ellipse cx="564.5" cy="966" rx="33" ry="88" fill="#2a5a9a" filter="url(#g8)"/><ellipse cx="564.5" cy="963.75" rx="26" ry="59.25" fill="#48a8cc" filter="url(#g5)"/><ellipse cx="564.5" cy="894.6" rx="25.35" ry="11.02" fill="#2e63a2" filter="url(#g5)"/><ellipse cx="564.5" cy="913.5" rx="25.35" ry="11.02" fill="#56adcf" filter="url(#g5)"/><ellipse cx="564.5" cy="934.8" rx="25.35" ry="11.02" fill="#82c5d9" filter="url(#g5)"/><ellipse cx="564.5" cy="951.3" rx="25.35" ry="11.02" fill="#82c5d9" filter="url(#g5)"/><ellipse cx="564.5" cy="965.5" rx="25.35" ry="11.02" fill="#66b6d3" filter="url(#g5)"/><ellipse cx="564.5" cy="980.9" rx="25.35" ry="11.02" fill="#66b6d3" filter="url(#g5)"/><ellipse cx="564.5" cy="996.3" rx="25.35" ry="11.02" fill="#79c0d7" filter="url(#g5)"/><ellipse cx="564.5" cy="1014" rx="25.35" ry="11.02" fill="#4aa5cb" filter="url(#g5)"/><ellipse cx="564.5" cy="1031.7" rx="25.35" ry="11.02" fill="#2e63a2" filter="url(#g5)"/><ellipse cx="564.5" cy="963.75" rx="20" ry="54.25" fill="#b4dee6" filter="url(#g4_5)"/><ellipse cx="564.5" cy="894.6" rx="19.5" ry="7.6" fill="#3a80b5" filter="url(#g3_8)"/><ellipse cx="564.5" cy="913.5" rx="19.5" ry="7.6" fill="#bae1e7" filter="url(#g3_8)"/><ellipse cx="564.5" cy="934.8" rx="19.5" ry="7.6" fill="#e9f1f2" filter="url(#g3_8)"/><ellipse cx="564.5" cy="951.3" rx="19.5" ry="7.6" fill="#e9f1f2" filter="url(#g3_8)"/><ellipse cx="564.5" cy="965.5" rx="19.5" ry="7.6" fill="#cbe7eb" filter="url(#g3_8)"/><ellipse cx="564.5" cy="980.9" rx="19.5" ry="7.6" fill="#cbe7eb" filter="url(#g3_8)"/><ellipse cx="564.5" cy="996.3" rx="19.5" ry="7.6" fill="#dfeef0" filter="url(#g3_8)"/><ellipse cx="564.5" cy="1014" rx="19.5" ry="7.6" fill="#abdce3" filter="url(#g3_8)"/><ellipse cx="564.5" cy="1031.7" rx="19.5" ry="7.6" fill="#3a80b5" filter="url(#g3_8)"/></g><g clip-path="url(#c24)"><rect x="613.4" y="881.6" width="70.80" height="167.60" fill="#0c1a38"/><ellipse cx="648" cy="966" rx="33" ry="88" fill="#2a5a9a" filter="url(#g8)"/><ellipse cx="648" cy="967.5" rx="26" ry="60.5" fill="#48a8cc" filter="url(#g5)"/><ellipse cx="648" cy="899" rx="25.35" ry="11.02" fill="#2f66a6" filter="url(#g5)"/><ellipse cx="648" cy="916" rx="25.35" ry="11.02" fill="#5bb0d0" filter="url(#g5)"/><ellipse cx="648" cy="934" rx="25.35" ry="11.02" fill="#84c7da" filter="url(#g5)"/><ellipse cx="648" cy="951" rx="25.35" ry="11.02" fill="#84c7da" filter="url(#g5)"/><ellipse cx="648" cy="968" rx="25.35" ry="11.02" fill="#7dc3d8" filter="url(#g5)"/><ellipse cx="648" cy="985" rx="25.35" ry="11.02" fill="#7dc3d8" filter="url(#g5)"/><ellipse cx="648" cy="1002" rx="25.35" ry="11.02" fill="#7dc3d8" filter="url(#g5)"/><ellipse cx="648" cy="1019" rx="25.35" ry="11.02" fill="#50a9cd" filter="url(#g5)"/><ellipse cx="648" cy="1035" rx="25.35" ry="11.02" fill="#2e63a2" filter="url(#g5)"/><ellipse cx="648" cy="967.5" rx="20" ry="55.5" fill="#cce6ea" filter="url(#g4_5)"/><ellipse cx="648" cy="899" rx="19.5" ry="7.6" fill="#3c85b8" filter="url(#g3_8)"/><ellipse cx="648" cy="916" rx="19.5" ry="7.6" fill="#bfe3e8" filter="url(#g3_8)"/><ellipse cx="648" cy="934" rx="19.5" ry="7.6" fill="#ebf2f3" filter="url(#g3_8)"/><ellipse cx="648" cy="951" rx="19.5" ry="7.6" fill="#ebf2f3" filter="url(#g3_8)"/><ellipse cx="648" cy="968" rx="19.5" ry="7.6" fill="#e4f0f1" filter="url(#g3_8)"/><ellipse cx="648" cy="985" rx="19.5" ry="7.6" fill="#e4f0f1" filter="url(#g3_8)"/><ellipse cx="648" cy="1002" rx="19.5" ry="7.6" fill="#e4f0f1" filter="url(#g3_8)"/><ellipse cx="648" cy="1019" rx="19.5" ry="7.6" fill="#b2dee5" filter="url(#g3_8)"/><ellipse cx="648" cy="1035" rx="19.5" ry="7.6" fill="#3a80b5" filter="url(#g3_8)"/></g><text x="594.2" y="899.1" font-size="13.2" fill="#f2f2f2" text-anchor="end">1</text><text x="594.2" y="916.2" font-size="13.2" fill="#f2f2f2" text-anchor="end">2</text><text x="594.2" y="936.4" font-size="13.2" fill="#f2f2f2" text-anchor="end">3</text><text x="594.2" y="953.4" font-size="13.2" fill="#f2f2f2" text-anchor="end">4</text><text x="594.2" y="970.7" font-size="13.2" fill="#f2f2f2" text-anchor="end">5</text><text x="594.2" y="987.2" font-size="13.2" fill="#f2f2f2" text-anchor="end">6</text><text x="594.2" y="1004.5" font-size="13.2" fill="#f2f2f2" text-anchor="end">7</text><text x="594.2" y="1022.0" font-size="13.2" fill="#f2f2f2" text-anchor="end">8</text><text x="594.2" y="1037.7" font-size="13.2" fill="#f2f2f2" text-anchor="end">9</text><text x="678.6" y="899.1" font-size="13.2" fill="#f2f2f2" text-anchor="end">1</text><text x="678.6" y="916.2" font-size="13.2" fill="#f2f2f2" text-anchor="end">2</text><text x="678.6" y="936.4" font-size="13.2" fill="#f2f2f2" text-anchor="end">3</text><text x="678.6" y="953.4" font-size="13.2" fill="#f2f2f2" text-anchor="end">4</text><text x="678.6" y="970.7" font-size="13.2" fill="#f2f2f2" text-anchor="end">5</text><text x="678.6" y="987.2" font-size="13.2" fill="#f2f2f2" text-anchor="end">6</text><text x="678.6" y="1004.5" font-size="13.2" fill="#f2f2f2" text-anchor="end">7</text><text x="678.6" y="1022.0" font-size="13.2" fill="#f2f2f2" text-anchor="end">8</text><text x="678.6" y="1037.7" font-size="13.2" fill="#f2f2f2" text-anchor="end">9</text><g clip-path="url(#c25)"><rect x="358.1" y="1077.5" width="64.00" height="182.10" fill="#8a8a8a"/><ellipse cx="392" cy="1170" rx="23" ry="64" fill="#2a2a2a" filter="url(#g5)"/><ellipse cx="378" cy="1172" rx="6" ry="46" fill="#050505" filter="url(#g4)"/><ellipse cx="405" cy="1170" rx="5" ry="42" fill="#3a3a3a" filter="url(#g4)"/><ellipse cx="392" cy="1169" rx="9" ry="50" fill="#a8a8a8" filter="url(#g4)"/><ellipse cx="391.5" cy="1128.7" rx="5" ry="7.5" fill="#c8c8c8" filter="url(#g2_8)"/><ellipse cx="391.5" cy="1149" rx="5" ry="7.5" fill="#dcdcdc" filter="url(#g2_8)"/><ellipse cx="391.5" cy="1169.5" rx="5" ry="7.5" fill="#f4f4f4" filter="url(#g2_8)"/><ellipse cx="391.5" cy="1184.7" rx="5" ry="7.5" fill="#f0f0f0" filter="url(#g2_8)"/><ellipse cx="391.5" cy="1198.7" rx="5" ry="7.5" fill="#fafafa" filter="url(#g2_8)"/><ellipse cx="391.5" cy="1214" rx="5" ry="7.5" fill="#c0c0c0" filter="url(#g2_8)"/><ellipse cx="376.5" cy="1145" rx="4" ry="5" fill="#000" filter="url(#g3_5)"/><ellipse cx="376.5" cy="1165" rx="4" ry="5" fill="#000" filter="url(#g3_5)"/><ellipse cx="376.5" cy="1185" rx="4" ry="5" fill="#000" filter="url(#g3_5)"/><ellipse cx="376.5" cy="1203" rx="4" ry="5" fill="#000" filter="url(#g3_5)"/></g><path d="M389.6,1139.1999999999998 L395.4,1145.0 M389.6,1145.0 L395.4,1139.1999999999998" stroke="#1673C9" stroke-width="3.1" stroke-linecap="round"/><path d="M389.6,1161.5 L395.4,1167.3000000000002 M389.6,1167.3000000000002 L395.4,1161.5" stroke="#F01010" stroke-width="3.1" stroke-linecap="round"/><g clip-path="url(#c26)"><rect x="441.3" y="1077.5" width="70.60" height="182.10" fill="#0e1e3c"/><ellipse cx="476" cy="1085" rx="20" ry="10" fill="#050d20" filter="url(#g5)"/><ellipse cx="476" cy="1249" rx="22" ry="12" fill="#02060f" filter="url(#g5)"/><ellipse cx="476" cy="1169" rx="25" ry="76" fill="#28589a" filter="url(#g8)"/><ellipse cx="476" cy="1170" rx="16" ry="54" fill="#4aaccc" filter="url(#g4_5)"/><ellipse cx="476" cy="1170" rx="11" ry="44" fill="#7cc8dc" filter="url(#g4)"/><ellipse cx="476" cy="1133" rx="9" ry="7.5" fill="#d8eef0" filter="url(#g3_5)"/><ellipse cx="476" cy="1169" rx="10" ry="21" fill="#f0f4f4" filter="url(#g4)"/><ellipse cx="476" cy="1209" rx="9" ry="7.5" fill="#cce8ee" filter="url(#g3_5)"/></g><g clip-path="url(#c27)"><rect x="529.2" y="1077.8" width="69.50" height="181.60" fill="#0a1530"/><ellipse cx="565.7" cy="1168" rx="33" ry="96" fill="#2a5a9a" filter="url(#g8)"/><ellipse cx="565.7" cy="1179.25" rx="25" ry="66.95000000000005" fill="#44a4ca" filter="url(#g5)"/><ellipse cx="565.7" cy="1097.7" rx="24.7" ry="11.02" fill="#2e63a2" filter="url(#g5)"/><ellipse cx="565.7" cy="1121.3" rx="24.7" ry="11.02" fill="#7dc3d8" filter="url(#g5)"/><ellipse cx="565.7" cy="1140.2" rx="24.7" ry="11.02" fill="#6dbad4" filter="url(#g5)"/><ellipse cx="565.7" cy="1154.4" rx="24.7" ry="11.02" fill="#48a2ca" filter="url(#g5)"/><ellipse cx="565.7" cy="1168.6" rx="24.7" ry="11.02" fill="#89c9db" filter="url(#g5)"/><ellipse cx="565.7" cy="1184" rx="24.7" ry="11.02" fill="#4aa5cb" filter="url(#g5)"/><ellipse cx="565.7" cy="1200.5" rx="24.7" ry="11.02" fill="#6dbad4" filter="url(#g5)"/><ellipse cx="565.7" cy="1219.5" rx="24.7" ry="11.02" fill="#7dc3d8" filter="url(#g5)"/><ellipse cx="565.7" cy="1237.2" rx="24.7" ry="11.02" fill="#316aa9" filter="url(#g5)"/><ellipse cx="565.7" cy="1170.4" rx="19" ry="53.10000000000002" fill="#78c4d8" filter="url(#g4_5)"/><ellipse cx="565.7" cy="1097.7" rx="19.0" ry="7.6" fill="#3a80b5" filter="url(#g3_8)"/><ellipse cx="565.7" cy="1121.3" rx="19.0" ry="7.6" fill="#e4f0f1" filter="url(#g3_8)"/><ellipse cx="565.7" cy="1140.2" rx="19.0" ry="7.6" fill="#d2eaed" filter="url(#g3_8)"/><ellipse cx="565.7" cy="1154.4" rx="19.0" ry="7.6" fill="#a6dae2" filter="url(#g3_8)"/><ellipse cx="565.7" cy="1168.6" rx="19.0" ry="7.6" fill="#f0f4f4" filter="url(#g3_8)"/><ellipse cx="565.7" cy="1184" rx="19.0" ry="7.6" fill="#abdce3" filter="url(#g3_8)"/><ellipse cx="565.7" cy="1200.5" rx="19.0" ry="7.6" fill="#d2eaed" filter="url(#g3_8)"/><ellipse cx="565.7" cy="1219.5" rx="19.0" ry="7.6" fill="#e4f0f1" filter="url(#g3_8)"/><ellipse cx="565.7" cy="1237.2" rx="19.0" ry="7.6" fill="#3f8cbd" filter="url(#g3_8)"/></g><g clip-path="url(#c28)"><rect x="614.2" y="1077.8" width="70.80" height="181.60" fill="#0a1530"/><ellipse cx="647" cy="1168" rx="33" ry="96" fill="#2a5a9a" filter="url(#g8)"/><ellipse cx="647" cy="1170.5" rx="25" ry="66.5" fill="#44a4ca" filter="url(#g5)"/><ellipse cx="647" cy="1113" rx="24.7" ry="10.44" fill="#3b82b7" filter="url(#g5)"/><ellipse cx="647" cy="1130" rx="24.7" ry="10.44" fill="#5bb0d0" filter="url(#g5)"/><ellipse cx="647" cy="1147" rx="24.7" ry="10.44" fill="#66b6d3" filter="url(#g5)"/><ellipse cx="647" cy="1163" rx="24.7" ry="10.44" fill="#72bcd6" filter="url(#g5)"/><ellipse cx="647" cy="1180" rx="24.7" ry="10.44" fill="#72bcd6" filter="url(#g5)"/><ellipse cx="647" cy="1196" rx="24.7" ry="10.44" fill="#66b6d3" filter="url(#g5)"/><ellipse cx="647" cy="1212" rx="24.7" ry="10.44" fill="#5bb0d0" filter="url(#g5)"/><ellipse cx="647" cy="1228" rx="24.7" ry="10.44" fill="#3b82b7" filter="url(#g5)"/><ellipse cx="647" cy="1171.0" rx="19" ry="45.0" fill="#a0d6e0" filter="url(#g4_5)"/><ellipse cx="647" cy="1097" rx="19.0" ry="7.2" fill="#387ab2" filter="url(#g3_8)"/><ellipse cx="647" cy="1113" rx="19.0" ry="7.2" fill="#5cb0d0" filter="url(#g3_8)"/><ellipse cx="647" cy="1130" rx="19.0" ry="7.2" fill="#bfe3e8" filter="url(#g3_8)"/><ellipse cx="647" cy="1147" rx="19.0" ry="7.2" fill="#cbe7eb" filter="url(#g3_8)"/><ellipse cx="647" cy="1163" rx="19.0" ry="7.2" fill="#d7ebee" filter="url(#g3_8)"/><ellipse cx="647" cy="1180" rx="19.0" ry="7.2" fill="#d7ebee" filter="url(#g3_8)"/><ellipse cx="647" cy="1196" rx="19.0" ry="7.2" fill="#cbe7eb" filter="url(#g3_8)"/><ellipse cx="647" cy="1212" rx="19.0" ry="7.2" fill="#bfe3e8" filter="url(#g3_8)"/><ellipse cx="647" cy="1228" rx="19.0" ry="7.2" fill="#5cb0d0" filter="url(#g3_8)"/><ellipse cx="647" cy="1245" rx="19.0" ry="7.2" fill="#3473ae" filter="url(#g3_8)"/></g><text x="594.8" y="1102.7" font-size="13.2" fill="#f2f2f2" text-anchor="end">1</text><text x="594.8" y="1118.3" font-size="13.2" fill="#f2f2f2" text-anchor="end">2</text><text x="594.8" y="1138.6" font-size="13.2" fill="#f2f2f2" text-anchor="end">3</text><text x="594.8" y="1156.1" font-size="13.2" fill="#f2f2f2" text-anchor="end">4</text><text x="594.8" y="1173.7" font-size="13.2" fill="#f2f2f2" text-anchor="end">5</text><text x="594.8" y="1189.9" font-size="13.2" fill="#f2f2f2" text-anchor="end">6</text><text x="594.8" y="1208.0" font-size="13.2" fill="#f2f2f2" text-anchor="end">7</text><text x="594.8" y="1225.0" font-size="13.2" fill="#f2f2f2" text-anchor="end">8</text><text x="594.8" y="1241.2" font-size="13.2" fill="#f2f2f2" text-anchor="end">9</text><text x="679.2" y="1099.4" font-size="13.2" fill="#f2f2f2" text-anchor="end">1</text><text x="679.2" y="1115.6" font-size="13.2" fill="#f2f2f2" text-anchor="end">2</text><text x="679.2" y="1135.9" font-size="13.2" fill="#f2f2f2" text-anchor="end">3</text><text x="679.2" y="1150.7" font-size="13.2" fill="#f2f2f2" text-anchor="end">4</text><text x="679.2" y="1166.9" font-size="13.2" fill="#f2f2f2" text-anchor="end">5</text><text x="679.2" y="1182.6" font-size="13.2" fill="#f2f2f2" text-anchor="end">6</text><text x="679.2" y="1198.0" font-size="13.2" fill="#f2f2f2" text-anchor="end">7</text><text x="679.2" y="1212.8" font-size="13.2" fill="#f2f2f2" text-anchor="end">8</text><text x="679.2" y="1231.7" font-size="13.2" fill="#f2f2f2" text-anchor="end">9</text><text x="679.2" y="1246.6" font-size="13.2" fill="#f2f2f2" text-anchor="end">10</text><g clip-path="url(#c29)"><rect x="358.1" y="1289.0" width="64.00" height="195.70" fill="#8e8e8e"/><ellipse cx="391" cy="1395" rx="21" ry="78" fill="#404040" filter="url(#g5)"/><ellipse cx="404" cy="1400" rx="6" ry="58" fill="#000" filter="url(#g4)"/><ellipse cx="377" cy="1395" rx="4" ry="52" fill="#303030" filter="url(#g4)"/><ellipse cx="389" cy="1398" rx="8.5" ry="56" fill="#c4c4c4" filter="url(#g4)"/><ellipse cx="390.5" cy="1352" rx="5" ry="8.5" fill="#c8c8c8" filter="url(#g2_9)"/><ellipse cx="390" cy="1372" rx="5" ry="8.5" fill="#d8d8d8" filter="url(#g2_9)"/><ellipse cx="389.5" cy="1392" rx="5" ry="8.5" fill="#dedede" filter="url(#g2_9)"/><ellipse cx="388.5" cy="1410" rx="5" ry="8.5" fill="#e8e8e8" filter="url(#g2_9)"/><ellipse cx="387" cy="1431" rx="5" ry="8.5" fill="#ffffff" filter="url(#g2_9)"/><ellipse cx="386.5" cy="1450" rx="5" ry="8.5" fill="#d8d8d8" filter="url(#g2_9)"/></g><path d="M387.1,1365.1 L392.9,1370.9 M387.1,1370.9 L392.9,1365.1" stroke="#1673C9" stroke-width="3.1" stroke-linecap="round"/><path d="M387.1,1387.8 L392.9,1393.6000000000001 M387.1,1393.6000000000001 L392.9,1387.8" stroke="#F01010" stroke-width="3.1" stroke-linecap="round"/><g clip-path="url(#c30)"><rect x="441.3" y="1289.0" width="70.60" height="195.70" fill="#0e1e3c"/><ellipse cx="476" cy="1296" rx="18" ry="10" fill="#02060f" filter="url(#g5)"/><ellipse cx="447" cy="1400" rx="8" ry="40" fill="#050d20" filter="url(#g6)"/><ellipse cx="476" cy="1387" rx="24" ry="88" fill="#28589a" filter="url(#g8)"/><ellipse cx="476" cy="1392" rx="15" ry="68" fill="#4aacce" filter="url(#g4_5)"/><ellipse cx="476" cy="1394" rx="10" ry="56" fill="#8ccfe0" filter="url(#g4)"/><ellipse cx="476" cy="1368" rx="8" ry="18" fill="#c8e6ea" filter="url(#g4)"/><ellipse cx="476" cy="1416" rx="9" ry="24" fill="#eef4f4" filter="url(#g4_5)"/></g><g clip-path="url(#c31)"><rect x="529.2" y="1288.4" width="70.30" height="195.80" fill="#0c1a38"/><ellipse cx="563.4" cy="1386" rx="33" ry="100" fill="#2a5a9a" filter="url(#g8)"/><ellipse cx="563.4" cy="1393.5" rx="25" ry="70.5" fill="#44a4ca" filter="url(#g5)"/><ellipse cx="563.4" cy="1318" rx="24.7" ry="10.005" fill="#2e63a2" filter="url(#g4_8)"/><ellipse cx="563.4" cy="1332" rx="24.7" ry="10.005" fill="#3b82b7" filter="url(#g4_8)"/><ellipse cx="563.4" cy="1349" rx="24.7" ry="10.005" fill="#4aa5cb" filter="url(#g4_8)"/><ellipse cx="563.4" cy="1365" rx="24.7" ry="10.005" fill="#5bb0d0" filter="url(#g4_8)"/><ellipse cx="563.4" cy="1380" rx="24.7" ry="10.005" fill="#5fb2d1" filter="url(#g4_8)"/><ellipse cx="563.4" cy="1394" rx="24.7" ry="10.005" fill="#5fb2d1" filter="url(#g4_8)"/><ellipse cx="563.4" cy="1408" rx="24.7" ry="10.005" fill="#72bcd6" filter="url(#g4_8)"/><ellipse cx="563.4" cy="1423" rx="24.7" ry="10.005" fill="#72bcd6" filter="url(#g4_8)"/><ellipse cx="563.4" cy="1439" rx="24.7" ry="10.005" fill="#52aace" filter="url(#g4_8)"/><ellipse cx="563.4" cy="1455" rx="24.7" ry="10.005" fill="#3e8abb" filter="url(#g4_8)"/><ellipse cx="563.4" cy="1394.0" rx="19" ry="49.0" fill="#84c8d8" filter="url(#g4_5)"/><ellipse cx="563.4" cy="1304" rx="19.0" ry="6.9" fill="#316ba9" filter="url(#g3_6)"/><ellipse cx="563.4" cy="1318" rx="19.0" ry="6.9" fill="#3a80b5" filter="url(#g3_6)"/><ellipse cx="563.4" cy="1332" rx="19.0" ry="6.9" fill="#5cb0d0" filter="url(#g3_6)"/><ellipse cx="563.4" cy="1349" rx="19.0" ry="6.9" fill="#abdce3" filter="url(#g3_6)"/><ellipse cx="563.4" cy="1365" rx="19.0" ry="6.9" fill="#bfe3e8" filter="url(#g3_6)"/><ellipse cx="563.4" cy="1380" rx="19.0" ry="6.9" fill="#c4e4e9" filter="url(#g3_6)"/><ellipse cx="563.4" cy="1394" rx="19.0" ry="6.9" fill="#c4e4e9" filter="url(#g3_6)"/><ellipse cx="563.4" cy="1408" rx="19.0" ry="6.9" fill="#d7ebee" filter="url(#g3_6)"/><ellipse cx="563.4" cy="1423" rx="19.0" ry="6.9" fill="#d7ebee" filter="url(#g3_6)"/><ellipse cx="563.4" cy="1439" rx="19.0" ry="6.9" fill="#b5dfe6" filter="url(#g3_6)"/><ellipse cx="563.4" cy="1455" rx="19.0" ry="6.9" fill="#6fbbd5" filter="url(#g3_6)"/><ellipse cx="563.4" cy="1472" rx="19.0" ry="6.9" fill="#3473ae" filter="url(#g3_6)"/></g><g clip-path="url(#c32)"><rect x="614.0" y="1288.4" width="71.00" height="195.80" fill="#0c1a38"/><ellipse cx="647" cy="1386" rx="33" ry="100" fill="#2a5a9a" filter="url(#g8)"/><ellipse cx="647" cy="1393.5" rx="25" ry="70.5" fill="#44a4ca" filter="url(#g5)"/><ellipse cx="647" cy="1318" rx="24.7" ry="10.005" fill="#2e63a2" filter="url(#g4_8)"/><ellipse cx="647" cy="1332" rx="24.7" ry="10.005" fill="#3b82b7" filter="url(#g4_8)"/><ellipse cx="647" cy="1349" rx="24.7" ry="10.005" fill="#4aa5cb" filter="url(#g4_8)"/><ellipse cx="647" cy="1365" rx="24.7" ry="10.005" fill="#5bb0d0" filter="url(#g4_8)"/><ellipse cx="647" cy="1380" rx="24.7" ry="10.005" fill="#5fb2d1" filter="url(#g4_8)"/><ellipse cx="647" cy="1394" rx="24.7" ry="10.005" fill="#5fb2d1" filter="url(#g4_8)"/><ellipse cx="647" cy="1408" rx="24.7" ry="10.005" fill="#72bcd6" filter="url(#g4_8)"/><ellipse cx="647" cy="1423" rx="24.7" ry="10.005" fill="#72bcd6" filter="url(#g4_8)"/><ellipse cx="647" cy="1439" rx="24.7" ry="10.005" fill="#52aace" filter="url(#g4_8)"/><ellipse cx="647" cy="1455" rx="24.7" ry="10.005" fill="#3e8abb" filter="url(#g4_8)"/><ellipse cx="647" cy="1394.0" rx="19" ry="49.0" fill="#84c8d8" filter="url(#g4_5)"/><ellipse cx="647" cy="1304" rx="19.0" ry="6.9" fill="#316ba9" filter="url(#g3_6)"/><ellipse cx="647" cy="1318" rx="19.0" ry="6.9" fill="#3a80b5" filter="url(#g3_6)"/><ellipse cx="647" cy="1332" rx="19.0" ry="6.9" fill="#5cb0d0" filter="url(#g3_6)"/><ellipse cx="647" cy="1349" rx="19.0" ry="6.9" fill="#abdce3" filter="url(#g3_6)"/><ellipse cx="647" cy="1365" rx="19.0" ry="6.9" fill="#bfe3e8" filter="url(#g3_6)"/><ellipse cx="647" cy="1380" rx="19.0" ry="6.9" fill="#c4e4e9" filter="url(#g3_6)"/><ellipse cx="647" cy="1394" rx="19.0" ry="6.9" fill="#c4e4e9" filter="url(#g3_6)"/><ellipse cx="647" cy="1408" rx="19.0" ry="6.9" fill="#d7ebee" filter="url(#g3_6)"/><ellipse cx="647" cy="1423" rx="19.0" ry="6.9" fill="#d7ebee" filter="url(#g3_6)"/><ellipse cx="647" cy="1439" rx="19.0" ry="6.9" fill="#b5dfe6" filter="url(#g3_6)"/><ellipse cx="647" cy="1455" rx="19.0" ry="6.9" fill="#6fbbd5" filter="url(#g3_6)"/><ellipse cx="647" cy="1472" rx="19.0" ry="6.9" fill="#3473ae" filter="url(#g3_6)"/></g><text x="595.5" y="1308.6" font-size="13.2" fill="#f2f2f2" text-anchor="end">1</text><text x="595.5" y="1325.4" font-size="13.2" fill="#f2f2f2" text-anchor="end">2</text><text x="595.5" y="1344.5" font-size="13.2" fill="#f2f2f2" text-anchor="end">3</text><text x="595.5" y="1359.9" font-size="13.2" fill="#f2f2f2" text-anchor="end">4</text><text x="595.5" y="1376.1" font-size="13.2" fill="#f2f2f2" text-anchor="end">5</text><text x="595.5" y="1392.3" font-size="13.2" fill="#f2f2f2" text-anchor="end">6</text><text x="595.5" y="1407.2" font-size="13.2" fill="#f2f2f2" text-anchor="end">7</text><text x="595.5" y="1423.4" font-size="13.2" fill="#f2f2f2" text-anchor="end">8</text><text x="595.5" y="1439.6" font-size="13.2" fill="#f2f2f2" text-anchor="end">9</text><text x="595.5" y="1456.6" font-size="13.2" fill="#f2f2f2" text-anchor="end">10</text><text x="595.5" y="1473.9" font-size="13.2" fill="#f2f2f2" text-anchor="end">11</text><text x="679.5" y="1308.6" font-size="13.2" fill="#f2f2f2" text-anchor="end">1</text><text x="679.5" y="1325.4" font-size="13.2" fill="#f2f2f2" text-anchor="end">2</text><text x="679.5" y="1344.5" font-size="13.2" fill="#f2f2f2" text-anchor="end">3</text><text x="679.5" y="1359.9" font-size="13.2" fill="#f2f2f2" text-anchor="end">4</text><text x="679.5" y="1376.1" font-size="13.2" fill="#f2f2f2" text-anchor="end">5</text><text x="679.5" y="1392.3" font-size="13.2" fill="#f2f2f2" text-anchor="end">6</text><text x="679.5" y="1407.2" font-size="13.2" fill="#f2f2f2" text-anchor="end">7</text><text x="679.5" y="1423.4" font-size="13.2" fill="#f2f2f2" text-anchor="end">8</text><text x="679.5" y="1439.6" font-size="13.2" fill="#f2f2f2" text-anchor="end">9</text><text x="679.5" y="1456.6" font-size="13.2" fill="#f2f2f2" text-anchor="end">10</text><text x="679.5" y="1473.9" font-size="13.2" fill="#f2f2f2" text-anchor="end">11</text><text transform="translate(389.4,15.9) scale(1.05,1)" font-size="19.9" text-anchor="middle">AFM</text><text transform="translate(475.8,15.9) scale(1.05,1)" font-size="19.9" text-anchor="middle">STM</text><text transform="translate(562.2,15.9) scale(1.05,1)" font-size="19.9" text-anchor="middle">PIR</text><text transform="translate(645.6,15.9) scale(1.05,1)" font-size="19.9" text-anchor="middle">NIR</text><text x="476.3" y="35.5" font-size="16.5" text-anchor="middle">0.3 V</text><text x="561.6" y="35.5" font-size="16.5" text-anchor="middle">-1.75 V</text><text x="648.3" y="35.5" font-size="16.5" text-anchor="middle">1.46 V</text><text x="476.3" y="209.4" font-size="16.5" text-anchor="middle">0.3 V</text><text x="563.4" y="189.8" font-size="16.5" text-anchor="middle">-2.0 V</text><text x="647.8" y="189.8" font-size="16.5" text-anchor="middle">3.3 V</text><text x="476.3" y="348.2" font-size="16.5" text-anchor="middle">0.3 V</text><text x="563.0" y="347.8" font-size="16.5" text-anchor="middle">-1.65 V</text><text x="647.8" y="347.8" font-size="16.5" text-anchor="middle">1.3 V</text><text x="476.3" y="518.4" font-size="16.5" text-anchor="middle">0.3 V</text><text x="563.0" y="517.8" font-size="16.5" text-anchor="middle">-2.8 V</text><text x="648.0" y="517.8" font-size="16.5" text-anchor="middle">2.5 V</text><text x="476.3" y="707.8" font-size="16.5" text-anchor="middle">0.3 V</text><text x="561.8" y="691.2" font-size="16.5" text-anchor="middle">-1.6 V</text><text x="648.0" y="691.2" font-size="16.5" text-anchor="middle">1.2 V</text><text x="476.3" y="875.6" font-size="16.5" text-anchor="middle">0.3 V</text><text x="562.0" y="875.2" font-size="16.5" text-anchor="middle">-1.63 V</text><text x="648.0" y="875.2" font-size="16.5" text-anchor="middle">1.16 V</text><text x="476.3" y="1075.0" font-size="16.5" text-anchor="middle">0.3 V</text><text x="563.0" y="1074.6" font-size="16.5" text-anchor="middle">-2.75 V</text><text x="647.8" y="1074.6" font-size="16.5" text-anchor="middle">2.0 V</text><text x="476.3" y="1286.0" font-size="16.5" text-anchor="middle">0.3 V</text><text x="562.0" y="1285.7" font-size="16.5" text-anchor="middle">-1.6 V</text><text x="648.0" y="1285.7" font-size="16.5" text-anchor="middle">1.15 V</text><text transform="translate(340.5,142.6) rotate(-90)" font-size="20.0" fill="#1272C4">linear C<tspan font-size="13.6" dy="4.4">9</tspan></text><text transform="translate(340.5,311.0) rotate(-90)" font-size="20.0" fill="#14AE5C">linear C<tspan font-size="13.6" dy="4.4">10</tspan></text><text transform="translate(340.5,461.0) rotate(-90)" font-size="20.0" fill="#1272C4">linear C<tspan font-size="13.6" dy="4.4">13</tspan></text><text transform="translate(340.5,640.5) rotate(-90)" font-size="20.0" fill="#14AE5C">linear C<tspan font-size="13.6" dy="4.4">14</tspan></text><text transform="translate(340.5,818.3) rotate(-90)" font-size="20.0" fill="#1272C4">linear C<tspan font-size="13.6" dy="4.4">15</tspan></text><text transform="translate(340.5,1009.2) rotate(-90)" font-size="20.0" fill="#1272C4">linear C<tspan font-size="13.6" dy="4.4">17</tspan></text><text transform="translate(340.5,1209.4) rotate(-90)" font-size="20.0" fill="#14AE5C">linear C<tspan font-size="13.6" dy="4.4">18</tspan></text><text transform="translate(340.5,1433.6) rotate(-90)" font-size="20.0" fill="#1272C4">linear C<tspan font-size="13.6" dy="4.4">21</tspan></text><line x1="358.3" y1="171.3" x2="684" y2="171.3" stroke="#4472C4" stroke-width="2.3" stroke-dasharray="6.3 2.15"/><line x1="358.3" y1="325.7" x2="684" y2="325.7" stroke="#4472C4" stroke-width="2.3" stroke-dasharray="6.3 2.15"/><line x1="358.3" y1="497.3" x2="684" y2="497.3" stroke="#4472C4" stroke-width="2.3" stroke-dasharray="6.3 2.15"/><line x1="358.3" y1="671.5" x2="684" y2="671.5" stroke="#4472C4" stroke-width="2.3" stroke-dasharray="6.3 2.15"/><line x1="358.3" y1="856.0" x2="684" y2="856.0" stroke="#4472C4" stroke-width="2.3" stroke-dasharray="6.3 2.15"/><line x1="358.3" y1="1052.0" x2="684" y2="1052.0" stroke="#4472C4" stroke-width="2.3" stroke-dasharray="6.3 2.15"/><line x1="358.3" y1="1264.2" x2="684" y2="1264.2" stroke="#4472C4" stroke-width="2.3" stroke-dasharray="6.3 2.15"/>
<path d="M60.2,126.0 L60.9,129.6 L61.5,131.8 L62.2,133.3 L62.8,135.6 L63.5,136.2 L64.1,136.7 L64.7,139.3 L65.4,138.5 L66.0,138.0 L66.6,138.1 L67.3,139.0 L67.9,140.4 L68.5,140.5 L69.1,140.1 L69.8,140.0 L70.4,139.3 L71.0,138.0 L71.6,138.4 L72.2,137.9 L72.8,136.7 L73.4,137.6 L74.0,137.2 L74.6,137.4 L75.2,140.7 L75.9,142.1 L76.5,143.3 L77.1,146.0 L77.7,151.5 L78.3,154.0 L79.0,159.5 L79.6,164.6 L80.2,169.2 L80.9,174.5 L81.6,179.3 L82.2,184.8 L82.9,190.1 L83.6,194.2 L84.3,197.8 L85.0,200.4 L85.7,199.9 L86.3,201.9 L87.0,201.7 L87.7,202.3 L88.4,202.9 L89.0,203.4 L89.6,203.0 L90.2,200.9 L90.8,204.0 L91.4,203.3 L92.0,202.8 L92.6,203.8 L93.2,202.9 L93.8,202.0 L94.4,203.5 L95.0,203.8 L95.6,202.7 L96.2,204.0 L96.8,203.9 L97.4,202.5 L98.0,204.7 L98.6,204.0 L99.2,202.5 L99.8,203.6 L100.5,203.5 L101.1,204.3 L101.7,202.4 L102.3,204.1 L102.9,204.4 L103.5,204.3 L104.1,204.1 L104.7,204.8 L105.3,204.4 L105.9,203.7 L106.5,202.7 L107.1,204.2 L107.7,204.5 L108.3,203.9 L108.9,203.6 L109.5,204.1 L110.1,201.2 L110.7,203.1 L111.3,201.0 L111.9,203.0 L112.5,204.2 L113.1,205.3 L113.7,203.4 L114.3,203.8 L114.9,203.4 L115.5,201.3 L116.1,203.5 L116.7,203.4 L117.3,203.4 L117.9,202.5 L118.5,203.1 L119.1,203.4 L119.7,204.5 L120.3,203.9 L120.9,206.7 L121.5,203.8 L122.1,203.2 L122.7,203.3 L123.3,202.6 L123.9,204.5 L124.6,204.2 L125.2,202.4 L125.8,203.2 L126.4,204.3 L127.0,202.3 L127.6,203.2 L128.2,203.1 L128.8,205.4 L129.4,204.2 L130.0,203.2 L130.6,202.8 L131.2,204.9 L131.8,203.3 L132.4,205.4 L133.0,202.4 L133.6,202.9 L134.2,203.0 L134.8,202.6 L135.4,202.9 L136.0,203.8 L136.6,202.8 L137.2,201.9 L137.8,204.2 L138.4,204.8 L139.0,203.0 L139.6,203.5 L140.2,201.0 L140.8,203.6 L141.4,202.1 L142.0,202.5 L142.6,205.0 L143.2,202.5 L143.8,203.1 L144.4,202.2 L145.0,201.3 L145.6,201.7 L146.2,203.1 L146.8,202.0 L147.4,202.4 L148.1,203.7 L148.7,203.2 L149.3,202.0 L149.9,204.3 L150.5,203.6 L151.1,204.6 L151.7,202.6 L152.3,204.6 L152.9,202.3 L153.5,201.4 L154.1,202.3 L154.7,202.6 L155.3,203.3 L155.9,202.7 L156.5,203.6 L157.1,204.5 L157.7,202.9 L158.3,201.8 L158.9,202.5 L159.5,203.7 L160.1,204.0 L160.7,203.0 L161.3,202.2 L161.9,202.9 L162.5,203.9 L163.1,202.7 L163.7,204.2 L164.3,203.6 L164.9,203.5 L165.5,202.6 L166.1,204.2 L166.7,203.4 L167.3,201.8 L167.9,203.5 L168.5,202.8 L169.1,204.0 L169.7,203.4 L170.3,202.6 L170.9,203.1 L171.5,202.6 L172.2,202.1 L172.8,202.8 L173.4,203.7 L174.0,203.2 L174.6,203.0 L175.2,202.5 L175.8,203.4 L176.4,203.3 L177.0,203.9 L177.6,203.5 L178.2,205.0 L178.8,202.0 L179.4,202.6 L180.0,203.3 L180.6,203.8 L181.2,201.7 L181.8,201.5 L182.4,202.5 L183.0,203.7 L183.6,204.1 L184.3,200.2 L185.0,197.3 L185.7,194.1 L186.4,188.7 L187.0,181.9 L187.7,175.6 L188.4,168.3 L189.0,163.6 L189.7,156.3 L190.3,149.1 L191.0,140.9 L191.7,133.2 L192.3,124.6 L192.9,117.0 L193.6,111.6 L194.2,107.2 L194.9,105.6 L195.6,104.6 L196.2,104.9 L196.9,103.8 L197.6,105.1 L198.3,107.5 L199.0,109.6 L199.7,115.1 L200.3,118.0 L201.0,120.0 L201.6,124.6 L202.2,126.6 L202.8,127.4 L203.4,130.1 L204.0,131.8 L204.6,133.0 L205.2,132.7 L205.9,134.6 L206.5,134.6 L207.1,135.1 L207.1,140.3" fill="none" stroke="#0A6EBD" stroke-width="2.3" stroke-linejoin="round" stroke-linecap="round"/><path d="M46.5,281.3 L47.2,284.1 L48.0,296.0 L48.6,291.4 L49.2,289.9 L49.9,290.4 L50.5,288.0 L51.1,285.8 L51.8,285.9 L52.4,281.3 L53.0,281.5 L53.7,278.6 L54.4,274.1 L55.0,273.5 L55.7,274.0 L56.3,272.2 L57.0,274.6 L57.6,274.7 L58.2,276.4 L58.9,274.2 L59.5,274.5 L60.2,275.6 L60.8,276.1 L61.5,274.2 L62.2,277.1 L62.9,276.1 L63.5,278.4 L64.2,278.3 L64.9,278.9 L65.5,279.2 L66.1,281.2 L66.7,285.1 L67.3,284.9 L67.9,288.3 L68.5,290.7 L69.1,291.6 L69.8,295.1 L70.4,298.3 L71.0,299.7 L71.6,302.1 L72.2,306.5 L72.8,309.2 L73.4,314.0 L74.0,316.0 L74.6,317.5 L75.2,321.3 L75.8,323.7 L76.4,328.5 L77.0,332.1 L77.6,334.3 L78.2,336.6 L78.8,341.2 L79.5,343.3 L80.1,347.4 L80.7,348.2 L81.3,350.9 L81.9,353.0 L82.5,354.6 L83.1,360.3 L83.7,361.9 L84.3,360.9 L84.9,363.2 L85.5,362.1 L86.1,366.0 L86.7,367.8 L87.3,367.6 L88.0,368.3 L88.6,369.8 L89.2,370.9 L89.8,370.7 L90.4,370.4 L91.0,371.0 L91.7,371.1 L92.3,372.6 L93.0,372.3 L93.6,372.5 L94.2,370.7 L94.9,371.7 L95.5,372.0 L96.2,372.0 L96.8,372.5 L97.4,372.5 L98.1,371.2 L98.7,373.5 L99.4,374.1 L100.0,372.8 L100.6,373.6 L101.2,372.2 L101.8,371.5 L102.4,372.4 L103.0,374.5 L103.6,373.3 L104.2,371.5 L104.8,372.9 L105.4,372.4 L106.0,372.2 L106.6,373.2 L107.2,371.3 L107.8,370.8 L108.4,371.0 L109.0,373.7 L109.6,373.4 L110.2,372.6 L110.8,372.3 L111.4,373.6 L112.0,374.6 L112.6,372.8 L113.2,373.4 L113.8,375.7 L114.4,374.5 L115.0,373.2 L115.6,373.6 L116.2,373.4 L116.8,374.0 L117.4,373.8 L118.0,372.8 L118.6,373.0 L119.2,373.6 L119.8,372.6 L120.4,373.2 L121.0,372.3 L121.6,374.3 L122.2,375.2 L122.8,372.8 L123.4,374.1 L124.0,373.7 L124.6,373.5 L125.2,373.1 L125.8,373.5 L126.4,374.4 L127.0,372.3 L127.6,374.1 L128.2,373.2 L128.8,372.1 L129.4,373.0 L130.0,373.9 L130.6,373.4 L131.2,373.7 L131.8,373.1 L132.4,372.7 L133.0,374.2 L133.7,372.6 L134.3,374.2 L134.9,373.9 L135.5,373.2 L136.1,373.1 L136.7,373.0 L137.3,373.2 L137.9,373.3 L138.5,373.2 L139.1,371.3 L139.7,370.7 L140.3,373.1 L140.9,372.6 L141.5,372.6 L142.1,373.0 L142.7,372.2 L143.3,374.7 L143.9,373.7 L144.5,373.3 L145.1,372.3 L145.7,374.1 L146.3,374.3 L146.9,375.2 L147.5,374.8 L148.1,372.9 L148.7,372.0 L149.3,374.5 L149.9,373.0 L150.5,373.2 L151.1,373.2 L151.7,373.9 L152.3,374.1 L152.9,372.5 L153.5,372.6 L154.1,371.4 L154.7,373.5 L155.3,373.3 L155.9,371.7 L156.5,374.1 L157.1,373.6 L157.7,372.5 L158.3,372.8 L158.9,372.7 L159.5,373.4 L160.1,373.7 L160.7,372.9 L161.3,373.8 L161.9,370.9 L162.5,372.5 L163.1,373.9 L163.7,374.6 L164.3,374.6 L164.9,372.7 L165.5,371.6 L166.1,372.7 L166.7,375.6 L167.3,374.3 L167.9,372.9 L168.5,371.6 L169.1,373.2 L169.7,373.0 L170.3,373.9 L170.9,373.8 L171.5,371.2 L172.1,372.8 L172.7,374.1 L173.3,373.1 L173.9,372.2 L174.5,372.0 L175.1,371.8 L175.7,375.3 L176.3,375.4 L176.9,373.4 L177.5,374.9 L178.1,372.8 L178.7,372.8 L179.3,372.6 L179.9,373.1 L180.5,374.1 L181.1,375.7 L181.7,374.8 L182.3,373.7 L182.9,373.7 L183.5,373.3 L184.1,373.9 L184.7,372.7 L185.3,373.6 L185.9,374.0 L186.5,374.6 L187.1,373.0 L187.7,373.8 L188.3,373.9 L188.9,372.8 L189.5,371.3 L190.1,372.4 L190.7,374.1 L191.3,373.4 L191.9,375.8 L192.5,374.7 L193.1,373.1 L193.7,373.3 L194.3,373.9 L194.9,374.1 L195.5,373.4 L196.1,374.0 L196.7,376.7 L197.3,375.3 L197.9,374.1 L198.5,373.2 L199.1,371.6 L199.7,373.2 L200.3,373.0 L201.0,373.4 L201.6,372.9 L202.2,374.2 L202.8,374.8 L203.4,373.1 L204.0,372.0 L204.6,373.5 L205.2,374.9 L205.8,374.3 L206.4,374.2 L207.0,372.3 L207.6,372.7 L208.2,373.9 L208.8,374.0 L209.4,373.6 L210.0,374.2 L210.6,374.6 L211.2,373.9 L211.8,372.9 L212.4,371.9 L213.0,373.4 L213.6,373.3 L214.2,373.3 L214.8,374.6 L215.4,373.1 L216.0,373.2 L216.6,374.1 L217.2,372.8 L217.8,371.2 L218.4,372.4 L219.0,374.1 L219.6,373.1 L220.2,373.2 L220.8,371.6 L221.4,374.3 L222.0,371.9 L222.6,372.5 L223.2,373.1 L223.8,375.4 L224.4,374.1 L225.0,373.0 L225.6,371.9 L226.2,372.8 L226.8,372.1 L227.4,372.6 L228.0,373.3 L228.6,374.7 L229.2,372.7 L229.8,374.7 L230.4,371.9 L231.0,375.1 L231.6,373.3 L232.2,373.1 L232.8,372.9 L233.4,373.6 L234.0,373.5 L234.6,373.2 L235.2,372.7 L235.8,372.6 L236.4,373.1 L237.0,372.5 L237.6,372.1 L238.2,371.0 L238.8,372.0 L239.4,372.5 L240.1,370.9 L240.7,372.2 L241.3,371.2 L241.9,370.8 L242.5,368.5 L243.1,370.0 L243.7,370.6 L244.3,371.1 L244.9,368.2 L245.5,367.4 L246.1,366.9 L246.7,365.2 L247.3,362.0 L247.9,360.3 L248.6,359.0 L249.2,356.4 L249.8,353.4 L250.4,352.0 L251.0,347.6 L251.6,346.9 L252.2,343.8 L252.9,341.6 L253.5,340.4 L254.1,339.3 L254.7,336.0 L255.3,333.4 L256.0,332.9 L256.6,330.8 L257.2,326.5 L257.8,326.4 L258.4,325.6 L259.0,324.8 L259.6,323.2 L260.2,324.4 L260.9,323.8 L261.5,324.8 L262.1,322.8 L262.7,322.5 L263.3,321.5 L263.9,323.1 L264.6,323.7 L265.2,324.3 L265.9,323.8 L266.5,322.1 L267.1,323.4 L267.8,321.6 L268.4,321.5 L269.0,321.9 L269.7,324.3 L270.3,322.1 L270.9,321.2 L271.6,322.2 L272.2,323.5 L272.9,323.1 L273.5,323.0" fill="none" stroke="#0A6EBD" stroke-width="2.3" stroke-linejoin="round" stroke-linecap="round"/><path d="M65.5,506.9 L66.1,504.0 L66.7,500.0 L67.3,498.8 L67.9,495.7 L68.6,492.9 L69.2,490.1 L69.8,489.1 L70.4,486.8 L71.0,485.5 L71.6,482.8 L72.3,481.0 L72.9,479.2 L73.5,478.7 L74.2,475.5 L74.8,478.4 L75.5,477.4 L76.1,477.1 L76.8,477.9 L77.5,477.2 L78.2,478.0 L78.8,479.3 L79.5,477.9 L80.2,481.4 L80.8,481.6 L81.4,483.7 L82.0,484.5 L82.6,487.2 L83.2,492.5 L83.9,494.2 L84.5,497.2 L85.1,501.2 L85.7,505.3 L86.3,504.6 L86.9,510.1 L87.5,512.6 L88.1,516.2 L88.7,517.5 L89.3,521.3 L90.0,525.5 L90.6,526.6 L91.2,527.6 L91.8,528.9 L92.4,529.4 L93.0,530.8 L93.7,530.7 L94.3,530.1 L94.9,531.2 L95.6,529.8 L96.2,529.2 L96.8,532.8 L97.5,530.8 L98.1,532.5 L98.7,531.3 L99.4,530.9 L100.0,531.5 L100.6,530.3 L101.2,530.0 L101.8,530.6 L102.4,530.5 L103.0,531.6 L103.6,533.0 L104.2,530.4 L104.8,530.0 L105.4,531.5 L106.0,531.6 L106.6,532.3 L107.2,530.6 L107.8,531.5 L108.5,531.1 L109.1,529.5 L109.7,531.1 L110.3,529.5 L110.9,531.2 L111.5,530.6 L112.1,530.7 L112.7,533.0 L113.3,533.0 L113.9,531.9 L114.5,531.6 L115.1,530.4 L115.7,532.1 L116.3,531.9 L116.9,530.4 L117.5,529.2 L118.1,530.6 L118.7,530.7 L119.3,531.8 L119.9,530.2 L120.5,529.9 L121.1,531.1 L121.7,531.1 L122.3,531.9 L122.9,532.3 L123.5,530.4 L124.2,528.6 L124.8,530.4 L125.4,530.1 L126.0,531.0 L126.6,528.4 L127.2,530.2 L127.8,530.9 L128.4,530.4 L129.0,531.3 L129.6,531.1 L130.2,531.2 L130.8,532.3 L131.4,532.5 L132.0,532.5 L132.6,531.7 L133.2,531.3 L133.8,531.6 L134.4,531.4 L135.0,530.3 L135.6,531.1 L136.2,531.9 L136.8,530.7 L137.4,529.8 L138.0,531.2 L138.6,530.2 L139.2,529.3 L139.9,530.2 L140.5,529.3 L141.1,530.8 L141.7,530.3 L142.3,530.8 L142.9,531.9 L143.5,532.2 L144.1,531.1 L144.7,528.7 L145.3,529.8 L145.9,529.4 L146.5,531.3 L147.1,532.4 L147.7,531.9 L148.3,531.7 L148.9,531.5 L149.5,531.6 L150.1,530.6 L150.7,531.6 L151.3,530.6 L151.9,529.6 L152.5,530.5 L153.1,532.2 L153.7,530.9 L154.3,529.0 L154.9,531.4 L155.6,531.1 L156.2,531.3 L156.8,530.3 L157.4,531.0 L158.0,532.3 L158.6,530.4 L159.2,531.2 L159.8,531.1 L160.4,529.8 L161.0,530.5 L161.6,531.1 L162.2,529.8 L162.8,531.5 L163.4,529.7 L164.0,531.4 L164.6,531.3 L165.2,530.9 L165.8,529.8 L166.4,529.5 L167.0,528.0 L167.6,529.8 L168.2,530.1 L168.8,530.8 L169.4,531.4 L170.0,530.8 L170.7,530.1 L171.3,531.2 L171.9,530.5 L172.5,530.3 L173.1,529.1 L173.7,530.9 L174.3,529.7 L174.9,531.9 L175.5,529.7 L176.1,529.6 L176.7,530.0 L177.3,529.4 L177.9,528.5 L178.5,528.5 L179.1,528.0 L179.8,526.4 L180.4,524.4 L181.1,520.2 L181.7,515.2 L182.3,510.7 L183.0,503.0 L183.6,499.4 L184.3,494.7 L185.0,488.7 L185.6,484.2 L186.3,477.9 L187.0,472.4 L187.7,470.3 L188.3,466.3 L188.9,463.6 L189.6,460.0 L190.2,460.3 L190.8,459.3 L191.4,461.2 L192.0,464.0 L192.6,465.3 L193.2,466.9 L193.8,469.0 L194.5,474.6 L195.2,477.5 L195.9,482.7 L196.5,487.3 L197.2,488.6 L197.9,495.7 L198.6,501.0 L199.3,506.2 L199.9,511.0 L200.6,516.0 L201.3,518.9 L202.0,523.3 L202.7,525.1 L203.4,528.0 L204.1,531.7 L204.7,532.5 L205.4,532.3 L206.1,533.7 L207.1,529.7" fill="none" stroke="#0A6EBD" stroke-width="2.3" stroke-linejoin="round" stroke-linecap="round"/><path d="M29.2,671.2 L29.9,666.4 L30.5,661.5 L31.2,659.4 L31.8,656.0 L32.4,655.2 L33.0,654.4 L33.6,654.4 L34.2,654.3 L34.8,653.0 L35.4,653.9 L36.0,652.4 L36.6,653.7 L37.2,652.6 L37.8,653.4 L38.4,653.7 L39.1,653.5 L39.8,653.4 L40.5,653.8 L41.1,654.3 L41.8,657.6 L42.5,658.3 L43.2,660.4 L43.9,660.5 L44.5,661.5 L45.2,661.9 L45.9,663.4 L46.6,663.5 L47.2,666.7 L47.8,668.4 L48.5,670.3 L49.1,671.6 L49.7,670.6 L50.3,669.8 L51.0,673.6 L51.6,674.9 L52.2,674.9 L52.8,675.6 L53.5,678.1 L54.1,680.2 L54.7,679.9 L55.3,679.1 L55.9,680.8 L56.5,681.8 L57.1,680.2 L57.7,682.0 L58.3,681.2 L59.0,682.2 L59.6,683.2 L60.2,683.3 L60.8,682.1 L61.4,683.9 L62.0,682.8 L62.6,684.8 L63.2,683.1 L63.8,684.2 L64.4,684.7 L65.0,684.9 L65.6,686.0 L66.2,686.5 L66.8,688.3 L67.5,687.7 L68.1,688.4 L68.7,686.6 L69.3,688.5 L69.9,689.0 L70.5,689.8 L71.1,690.3 L71.7,688.4 L72.3,687.8 L72.9,688.4 L73.6,688.9 L74.2,691.2 L74.8,688.8 L75.4,690.4 L76.0,692.0 L76.6,691.5 L77.2,690.4 L77.8,690.9 L78.5,692.6 L79.1,693.5 L79.7,693.1 L80.3,693.7 L80.9,695.1 L81.5,694.0 L82.1,696.1 L82.8,694.0 L83.4,696.4 L84.0,694.0 L84.6,696.2 L85.2,695.6 L85.8,694.1 L86.4,695.4 L87.0,696.2 L87.7,696.5 L88.3,696.2 L88.9,695.9 L89.5,695.7 L90.1,696.0 L90.7,697.1 L91.3,696.6 L91.9,696.6 L92.5,696.1 L93.2,697.0 L93.8,698.1 L94.4,698.1 L95.0,694.7 L95.6,694.1 L96.2,693.6 L96.8,694.1 L97.4,696.3 L98.0,694.5 L98.7,694.4 L99.3,694.0 L99.9,692.3 L100.5,692.4 L101.1,692.9 L101.7,692.9 L102.3,693.4 L102.9,693.4 L103.5,693.7 L104.1,692.4 L104.7,694.7 L105.3,694.8 L105.9,693.7 L106.5,693.7 L107.1,693.3 L107.7,692.3 L108.3,694.6 L108.9,694.2 L109.5,695.6 L110.1,696.4 L110.7,694.0 L111.3,693.6 L112.0,695.2 L112.6,694.6 L113.2,694.4 L113.8,694.7 L114.4,695.6 L115.0,694.2 L115.6,695.3 L116.2,696.6 L116.8,695.4 L117.4,695.3 L118.0,696.1 L118.6,696.8 L119.2,697.1 L119.8,696.7 L120.4,697.7 L121.0,695.8 L121.6,697.5 L122.2,696.9 L122.8,695.9 L123.4,694.6 L124.0,697.1 L124.6,696.4 L125.2,696.5 L125.8,697.4 L126.4,695.6 L127.0,696.3 L127.6,696.4 L128.2,697.1 L128.8,695.9 L129.4,697.0 L130.0,694.8 L130.7,694.6 L131.3,693.9 L131.9,693.3 L132.5,695.7 L133.1,694.8 L133.7,694.2 L134.3,694.1 L134.9,694.0 L135.5,692.3 L136.1,692.9 L136.7,693.8 L137.3,692.4 L137.9,693.0 L138.5,693.0 L139.1,692.4 L139.7,691.9 L140.3,692.5 L141.0,693.5 L141.6,694.1 L142.2,692.2 L142.8,693.5 L143.4,694.2 L144.0,692.2 L144.6,692.1 L145.3,694.0 L145.9,694.6 L146.5,694.7 L147.1,695.8 L147.7,695.2 L148.3,695.8 L148.9,694.6 L149.6,694.4 L150.2,693.5 L150.8,694.3 L151.4,694.1 L152.0,693.9 L152.6,695.0 L153.2,695.1 L153.9,694.4 L154.5,694.9 L155.1,695.2 L155.7,695.4 L156.3,694.4 L156.9,695.4 L157.5,694.6 L158.2,695.2 L158.8,694.5 L159.4,696.9 L160.0,694.1 L160.6,695.8 L161.2,694.2 L161.8,696.4 L162.4,694.1 L163.0,695.5 L163.6,694.9 L164.2,695.9 L164.8,693.9 L165.5,694.4 L166.1,695.3 L166.7,695.9 L167.3,694.6 L167.9,693.0 L168.5,694.1 L169.1,694.0 L169.7,694.8 L170.3,694.4 L170.9,693.8 L171.5,694.4 L172.1,696.1 L172.7,695.7 L173.3,694.7 L173.9,695.4 L174.5,693.6 L175.2,693.9 L175.8,694.5 L176.4,694.4 L177.0,694.1 L177.6,694.6 L178.2,696.5 L178.8,695.1 L179.4,695.2 L180.0,696.5 L180.6,692.7 L181.2,693.9 L181.8,695.3 L182.4,693.4 L183.0,693.9 L183.6,695.7 L184.2,695.0 L184.8,694.9 L185.5,696.7 L186.1,693.2 L186.7,695.3 L187.3,693.4 L187.9,694.6 L188.5,695.1 L189.1,694.7 L189.7,694.2 L190.3,695.2 L190.9,695.0 L191.5,695.3 L192.1,695.6 L192.7,695.2 L193.3,696.2 L193.9,694.3 L194.5,692.4 L195.2,692.0 L195.8,693.5 L196.4,692.7 L197.0,693.4 L197.6,694.0 L198.2,695.6 L198.8,693.2 L199.4,694.3 L200.0,692.8 L200.6,694.5 L201.2,692.0 L201.8,695.0 L202.5,693.9 L203.1,696.0 L203.7,694.6 L204.3,693.1 L204.9,693.2 L205.5,692.9 L206.1,693.8 L206.7,694.9 L207.4,694.2 L208.0,693.4 L208.6,693.2 L209.2,695.1 L209.8,692.9 L210.4,694.0 L211.0,692.6 L211.7,692.3 L212.3,693.6 L212.9,691.7 L213.5,694.3 L214.1,694.9 L214.7,692.4 L215.3,691.5 L215.9,692.2 L216.6,692.1 L217.2,691.6 L217.8,693.1 L218.4,694.7 L219.0,692.3 L219.6,691.9 L220.2,689.8 L220.8,688.6 L221.4,686.6 L222.1,685.2 L222.7,683.7 L223.3,681.4 L223.9,679.9 L224.5,677.2 L225.1,675.8 L225.8,671.4 L226.4,670.1 L227.1,666.7 L227.7,664.2 L228.3,660.7 L229.0,657.7 L229.6,655.4 L230.2,652.7 L230.9,650.8 L231.5,646.8 L232.1,645.5 L232.8,644.8 L233.4,641.8 L234.1,643.4 L234.7,641.9 L235.3,637.7 L235.9,638.9 L236.5,637.2 L237.1,636.2 L237.8,636.0 L238.4,633.3 L239.0,632.9 L239.6,632.6 L240.2,630.3 L240.8,629.5 L241.5,628.7 L242.2,627.8 L242.9,625.5 L243.5,625.0 L244.2,623.9 L244.9,625.0 L245.5,624.3 L246.1,626.1 L246.8,626.7 L247.4,627.2 L248.0,629.4" fill="none" stroke="#0A6EBD" stroke-width="2.3" stroke-linejoin="round" stroke-linecap="round"/><path d="M68.6,845.1 L69.3,841.3 L70.0,837.6 L70.7,833.1 L71.4,831.4 L72.1,827.2 L72.8,824.5 L73.5,820.2 L74.2,817.9 L74.8,813.8 L75.5,811.4 L76.2,809.9 L76.9,807.6 L77.5,806.3 L78.2,805.8 L78.9,806.5 L79.6,808.1 L80.3,809.4 L81.0,811.7 L81.7,816.4 L82.3,821.1 L83.0,825.5 L83.7,833.4 L84.4,836.2 L85.0,843.9 L85.6,846.4 L86.2,851.0 L86.8,855.9 L87.4,860.8 L88.0,861.8 L88.6,865.3 L89.3,867.7 L89.9,867.5 L90.5,868.1 L91.1,868.8 L91.7,868.8 L92.3,867.9 L92.9,866.5 L93.5,867.4 L94.1,867.3 L94.7,868.2 L95.3,868.4 L95.9,867.8 L96.5,867.3 L97.1,867.6 L97.7,868.5 L98.3,869.0 L99.0,869.1 L99.6,869.7 L100.2,869.8 L100.8,868.5 L101.4,869.8 L102.0,867.8 L102.6,869.0 L103.2,868.7 L103.8,867.0 L104.4,869.8 L105.0,871.0 L105.6,870.4 L106.2,867.7 L106.8,866.1 L107.4,868.8 L108.0,869.1 L108.6,868.2 L109.2,867.9 L109.8,866.8 L110.4,868.4 L111.0,866.6 L111.6,866.8 L112.2,868.1 L112.8,870.0 L113.4,869.9 L114.0,870.1 L114.6,870.5 L115.2,870.1 L115.9,868.7 L116.5,869.2 L117.1,869.1 L117.7,868.4 L118.3,868.8 L118.9,868.8 L119.5,867.6 L120.1,867.2 L120.7,868.6 L121.3,869.6 L121.9,870.1 L122.5,870.5 L123.1,869.8 L123.7,869.4 L124.3,868.6 L124.9,867.8 L125.5,865.8 L126.1,868.0 L126.7,869.4 L127.3,869.2 L127.9,871.0 L128.5,871.1 L129.1,870.5 L129.7,869.3 L130.3,870.9 L130.9,871.0 L131.5,868.4 L132.1,869.4 L132.8,870.4 L133.4,868.6 L134.0,870.9 L134.6,869.4 L135.2,869.8 L135.8,869.0 L136.4,869.4 L137.0,869.5 L137.6,870.8 L138.2,869.3 L138.8,869.8 L139.4,870.1 L140.0,869.1 L140.6,869.6 L141.2,867.9 L141.8,867.5 L142.4,868.3 L143.0,867.3 L143.6,867.8 L144.2,868.6 L144.8,868.3 L145.4,868.4 L146.0,868.0 L146.6,869.4 L147.2,869.1 L147.8,866.7 L148.4,869.4 L149.0,870.8 L149.7,870.3 L150.3,870.6 L150.9,868.8 L151.5,870.8 L152.1,870.3 L152.7,869.4 L153.3,870.5 L153.9,869.9 L154.5,868.7 L155.1,869.1 L155.7,869.7 L156.3,869.1 L156.9,869.6 L157.5,868.7 L158.1,867.4 L158.7,870.0 L159.3,869.9 L159.9,869.9 L160.5,867.8 L161.1,868.8 L161.7,870.4 L162.3,869.1 L162.9,868.1 L163.5,871.2 L164.1,869.8 L164.7,869.9 L165.3,869.3 L165.9,870.6 L166.6,869.8 L167.2,868.7 L167.8,868.8 L168.4,869.2 L169.0,871.0 L169.6,869.8 L170.2,869.3 L170.8,870.4 L171.4,870.7 L172.0,869.1 L172.6,869.5 L173.2,870.2 L173.8,869.2 L174.4,870.2 L175.0,869.2 L175.6,865.3 L176.3,863.8 L176.9,859.8 L177.5,855.6 L178.2,849.0 L178.9,844.8 L179.6,836.0 L180.2,830.7 L180.9,825.9 L181.6,818.5 L182.2,814.8 L182.8,811.2 L183.4,809.1 L184.0,805.5 L184.6,802.5 L185.2,801.4 L185.8,796.5 L186.5,795.1 L187.1,791.9 L187.7,792.6 L188.3,794.3 L188.9,794.3 L189.6,797.2 L190.2,801.5 L190.8,801.5 L191.4,806.0 L192.0,810.8 L192.6,818.1 L193.2,821.8 L193.8,824.9 L194.4,829.1 L195.0,830.2 L195.7,831.5 L196.3,834.8 L196.9,836.3 L197.6,843.1 L198.2,849.3 L198.9,853.8" fill="none" stroke="#0A6EBD" stroke-width="2.3" stroke-linejoin="round" stroke-linecap="round"/><path d="M69.0,1008.5 L69.7,1006.7 L70.4,1004.6 L71.0,1001.0 L71.7,998.3 L72.4,997.6 L73.1,993.7 L73.7,992.1 L74.4,989.2 L75.0,987.8 L75.7,986.0 L76.3,984.7 L76.9,983.2 L77.6,980.3 L78.2,979.7 L78.8,979.9 L79.4,980.9 L80.1,982.8 L80.7,984.2 L81.3,985.3 L81.9,988.2 L82.5,995.9 L83.2,998.5 L83.8,1007.1 L84.4,1010.0 L85.1,1015.4 L85.8,1022.4 L86.5,1029.1 L87.1,1035.4 L87.8,1039.7 L88.5,1042.7 L89.2,1045.1 L89.9,1047.3 L90.5,1048.2 L91.2,1049.7 L91.9,1049.6 L92.6,1051.5 L93.2,1047.4 L93.8,1048.6 L94.4,1049.5 L95.0,1049.3 L95.6,1049.7 L96.2,1049.8 L96.8,1050.8 L97.4,1049.7 L98.0,1049.4 L98.6,1048.5 L99.2,1049.3 L99.8,1049.1 L100.4,1049.7 L101.0,1049.2 L101.6,1049.7 L102.2,1049.0 L102.8,1048.2 L103.4,1048.5 L104.0,1048.6 L104.6,1050.1 L105.2,1049.4 L105.8,1049.7 L106.4,1050.4 L107.0,1050.2 L107.6,1049.4 L108.2,1049.7 L108.8,1047.4 L109.4,1049.6 L110.0,1048.7 L110.6,1047.6 L111.2,1049.6 L111.8,1049.1 L112.4,1047.8 L113.0,1049.6 L113.6,1050.6 L114.2,1049.7 L114.8,1048.9 L115.4,1049.8 L116.0,1051.2 L116.6,1049.1 L117.2,1049.0 L117.8,1048.7 L118.4,1049.4 L119.0,1049.5 L119.6,1049.9 L120.2,1049.2 L120.8,1049.7 L121.4,1051.3 L122.0,1048.6 L122.6,1048.9 L123.2,1049.1 L123.8,1049.0 L124.4,1049.1 L125.0,1049.1 L125.6,1049.7 L126.2,1049.2 L126.8,1049.4 L127.4,1049.4 L128.0,1050.1 L128.6,1047.6 L129.2,1049.5 L129.8,1048.1 L130.4,1048.4 L131.0,1049.1 L131.6,1048.3 L132.2,1049.5 L132.8,1049.6 L133.4,1050.3 L134.0,1050.5 L134.6,1048.6 L135.2,1051.0 L135.8,1050.0 L136.4,1050.1 L137.0,1048.9 L137.6,1048.4 L138.2,1050.0 L138.8,1049.9 L139.4,1048.0 L140.0,1049.7 L140.6,1049.9 L141.2,1047.8 L141.8,1047.0 L142.4,1048.4 L143.0,1048.5 L143.6,1049.4 L144.2,1050.6 L144.8,1051.1 L145.4,1049.2 L146.0,1048.4 L146.6,1050.5 L147.2,1049.6 L147.8,1049.0 L148.4,1050.7 L149.0,1050.3 L149.6,1049.4 L150.2,1050.4 L150.8,1049.4 L151.4,1050.3 L152.0,1050.4 L152.6,1049.9 L153.2,1048.6 L153.8,1049.1 L154.4,1050.9 L155.0,1050.9 L155.6,1050.7 L156.2,1049.0 L156.8,1050.3 L157.4,1049.0 L158.0,1049.3 L158.6,1049.9 L159.2,1051.2 L159.8,1049.2 L160.4,1049.6 L161.0,1048.2 L161.6,1048.3 L162.2,1050.1 L162.8,1050.2 L163.4,1050.6 L164.0,1051.0 L164.6,1051.5 L165.2,1050.5 L165.8,1048.7 L166.4,1048.9 L167.0,1048.6 L167.6,1049.1 L168.2,1048.9 L168.8,1049.5 L169.4,1048.7 L170.0,1050.3 L170.6,1049.1 L171.2,1048.9 L171.8,1048.2 L172.4,1048.1 L173.0,1049.2 L173.6,1049.3 L174.2,1048.9 L174.8,1049.4 L175.4,1050.0 L176.0,1047.4 L176.6,1044.1 L177.3,1041.3 L177.9,1035.7 L178.5,1030.9 L179.1,1024.9 L179.7,1016.1 L180.4,1007.6 L181.0,998.2 L181.6,990.8 L182.3,983.3 L183.0,974.0 L183.6,966.2 L184.3,961.1 L185.0,956.0 L185.7,956.7 L186.3,955.3 L186.9,957.2 L187.5,962.5 L188.1,970.2 L188.7,975.2 L189.3,979.5 L189.9,987.6 L190.6,996.4 L191.2,1003.3 L191.8,1010.7 L192.4,1016.8 L193.0,1022.4 L193.7,1027.1 L194.3,1032.4 L194.9,1037.6 L195.5,1044.1" fill="none" stroke="#0A6EBD" stroke-width="2.3" stroke-linejoin="round" stroke-linecap="round"/><path d="M27.8,1135.9 L28.4,1139.9 L29.1,1144.2 L29.7,1144.6 L30.3,1147.8 L30.9,1145.9 L31.5,1150.2 L32.2,1153.8 L32.8,1156.4 L33.4,1158.6 L34.0,1162.3 L34.7,1164.0 L35.3,1165.1 L35.9,1169.8 L36.5,1171.9 L37.1,1173.7 L37.7,1177.7 L38.3,1181.2 L38.9,1184.9 L39.5,1187.1 L40.1,1189.9 L40.7,1193.1 L41.3,1196.3 L41.9,1197.8 L42.5,1203.2 L43.1,1203.5 L43.8,1206.3 L44.4,1209.1 L45.0,1213.1 L45.7,1216.6 L46.3,1219.0 L46.9,1220.8 L47.5,1224.2 L48.2,1227.1 L48.8,1228.7 L49.4,1231.7 L50.1,1233.3 L50.7,1234.1 L51.3,1234.3 L52.0,1236.0 L52.6,1234.9 L53.2,1236.3 L53.9,1237.4 L54.5,1236.9 L55.2,1238.1 L55.8,1238.3 L56.4,1238.1 L57.0,1238.9 L57.6,1237.2 L58.2,1237.7 L58.8,1238.9 L59.4,1238.9 L60.0,1237.1 L60.6,1236.7 L61.2,1236.9 L61.8,1235.8 L62.4,1237.8 L63.0,1237.9 L63.6,1236.4 L64.2,1237.6 L64.8,1236.6 L65.4,1237.4 L66.0,1237.4 L66.6,1238.3 L67.2,1239.6 L67.8,1236.4 L68.4,1236.4 L69.0,1237.4 L69.6,1238.5 L70.2,1238.8 L70.8,1238.3 L71.4,1239.1 L72.0,1237.9 L72.6,1238.7 L73.2,1238.5 L73.8,1237.3 L74.4,1236.8 L75.0,1237.3 L75.6,1235.8 L76.2,1237.4 L76.8,1235.3 L77.4,1237.2 L78.0,1236.7 L78.6,1238.0 L79.2,1237.1 L79.8,1236.7 L80.4,1237.1 L81.0,1236.9 L81.6,1238.4 L82.2,1238.0 L82.8,1238.4 L83.4,1238.1 L84.0,1236.7 L84.6,1236.6 L85.2,1238.6 L85.8,1237.2 L86.4,1236.8 L87.0,1237.2 L87.6,1236.8 L88.2,1237.6 L88.8,1238.6 L89.4,1238.6 L90.0,1237.4 L90.6,1237.1 L91.2,1237.5 L91.8,1236.5 L92.4,1236.8 L93.1,1239.1 L93.7,1238.7 L94.3,1238.1 L94.9,1237.2 L95.5,1238.8 L96.1,1237.9 L96.7,1240.3 L97.3,1239.1 L97.9,1238.6 L98.5,1236.5 L99.1,1237.7 L99.7,1237.7 L100.3,1238.2 L100.9,1237.8 L101.5,1236.1 L102.1,1235.6 L102.7,1236.3 L103.3,1236.6 L103.9,1238.0 L104.5,1237.3 L105.1,1237.6 L105.7,1237.8 L106.3,1237.4 L106.9,1239.4 L107.5,1239.0 L108.1,1237.5 L108.7,1237.8 L109.3,1238.1 L109.9,1237.4 L110.5,1237.5 L111.1,1237.7 L111.7,1238.3 L112.3,1238.6 L112.9,1237.8 L113.5,1237.2 L114.1,1237.7 L114.7,1236.4 L115.3,1236.3 L115.9,1235.2 L116.5,1237.0 L117.1,1237.5 L117.7,1239.3 L118.3,1238.7 L118.9,1238.5 L119.5,1238.3 L120.1,1237.0 L120.7,1236.3 L121.3,1237.3 L121.9,1236.4 L122.5,1236.4 L123.1,1239.1 L123.7,1238.7 L124.3,1238.0 L124.9,1238.3 L125.5,1237.8 L126.1,1238.3 L126.7,1236.8 L127.3,1236.6 L127.9,1236.4 L128.5,1235.7 L129.1,1237.7 L129.7,1238.3 L130.3,1238.1 L130.9,1237.9 L131.5,1236.2 L132.1,1236.4 L132.7,1236.3 L133.3,1236.9 L133.9,1238.6 L134.5,1236.4 L135.1,1236.6 L135.7,1237.5 L136.3,1238.3 L136.9,1237.5 L137.5,1238.1 L138.1,1237.6 L138.7,1236.6 L139.3,1239.1 L139.9,1238.8 L140.5,1236.2 L141.1,1237.0 L141.7,1237.4 L142.3,1236.6 L142.9,1236.9 L143.5,1238.4 L144.1,1239.3 L144.7,1237.4 L145.3,1238.7 L145.9,1237.5 L146.5,1236.8 L147.1,1237.2 L147.7,1236.4 L148.3,1236.9 L148.9,1237.5 L149.5,1235.8 L150.1,1237.7 L150.7,1237.2 L151.3,1237.3 L151.9,1237.2 L152.5,1237.2 L153.1,1238.7 L153.7,1239.6 L154.3,1238.1 L154.9,1237.0 L155.5,1237.3 L156.1,1236.1 L156.7,1237.9 L157.3,1239.3 L157.9,1239.0 L158.5,1237.3 L159.1,1236.5 L159.7,1237.7 L160.3,1238.7 L160.9,1237.9 L161.5,1237.9 L162.1,1238.1 L162.7,1237.0 L163.3,1237.5 L163.9,1236.5 L164.5,1236.4 L165.1,1236.9 L165.7,1238.0 L166.4,1236.2 L167.0,1236.3 L167.6,1237.9 L168.2,1237.3 L168.8,1239.4 L169.4,1236.8 L170.0,1237.6 L170.6,1237.1 L171.2,1237.2 L171.8,1236.6 L172.4,1238.6 L173.0,1237.2 L173.6,1237.0 L174.2,1238.2 L174.8,1239.2 L175.4,1238.6 L176.0,1236.0 L176.6,1237.6 L177.2,1238.5 L177.8,1236.8 L178.4,1237.6 L179.0,1236.6 L179.6,1238.2 L180.2,1237.3 L180.8,1237.2 L181.4,1237.9 L182.0,1237.6 L182.6,1238.1 L183.2,1235.9 L183.8,1236.6 L184.4,1236.4 L185.0,1235.9 L185.6,1236.7 L186.2,1238.3 L186.8,1239.6 L187.4,1238.1 L188.0,1237.4 L188.6,1237.3 L189.2,1238.0 L189.8,1238.8 L190.4,1236.2 L191.0,1237.9 L191.6,1237.1 L192.2,1236.7 L192.8,1237.0 L193.4,1238.5 L194.0,1237.8 L194.6,1235.7 L195.2,1236.3 L195.8,1238.0 L196.4,1236.9 L197.0,1238.3 L197.6,1237.9 L198.2,1238.3 L198.8,1237.1 L199.4,1236.5 L200.0,1236.2 L200.6,1236.1 L201.2,1237.2 L201.8,1237.3 L202.4,1238.2 L203.0,1237.9 L203.6,1234.8 L204.2,1233.5 L204.9,1229.2 L205.5,1224.6 L206.1,1219.6 L206.7,1215.3 L207.3,1207.6 L208.0,1200.2 L208.6,1193.4 L209.2,1185.1 L209.8,1176.1 L210.4,1167.2 L211.0,1158.8 L211.6,1153.2 L212.2,1150.0 L212.8,1148.5 L213.4,1143.9 L214.1,1144.2 L214.7,1144.4 L215.3,1143.2 L215.9,1143.3 L216.5,1142.7 L217.2,1142.5 L217.8,1145.7 L218.4,1144.2 L219.0,1143.9 L219.6,1145.6 L220.2,1144.4 L220.8,1144.6 L221.4,1143.9 L222.1,1144.3 L222.8,1146.5 L223.4,1148.6 L224.1,1150.9 L224.8,1152.4 L225.5,1156.0" fill="none" stroke="#0A6EBD" stroke-width="2.3" stroke-linejoin="round" stroke-linecap="round"/><path d="M72.1,1357.1 L72.7,1360.0 L73.3,1360.9 L74.0,1363.5 L74.6,1367.0 L75.2,1368.0 L75.9,1367.2 L76.5,1371.5 L77.2,1369.3 L77.9,1368.3 L78.6,1369.7 L79.2,1372.8 L79.9,1372.3 L80.6,1373.3 L81.3,1375.1 L81.9,1375.2 L82.6,1373.4 L83.2,1375.6 L83.8,1380.7 L84.5,1375.9 L85.1,1374.9 L85.8,1372.2 L86.4,1369.2 L87.1,1373.7 L87.8,1374.5 L88.5,1379.0 L89.1,1378.8 L89.8,1381.6 L90.5,1377.2 L91.1,1378.6 L91.7,1382.7 L92.4,1383.5 L93.0,1388.3 L93.6,1395.1 L94.2,1401.0 L94.8,1402.7 L95.4,1406.9 L96.0,1409.4 L96.6,1413.5 L97.3,1414.5 L98.0,1413.9 L98.7,1415.6 L99.3,1417.1 L100.0,1412.0 L100.7,1413.2 L101.3,1414.6 L101.9,1415.1 L102.5,1416.0 L103.1,1415.1 L103.7,1412.9 L104.3,1413.9 L104.9,1414.1 L105.5,1413.2 L106.1,1413.5 L106.7,1415.0 L107.3,1413.2 L107.9,1413.9 L108.5,1416.8 L109.1,1416.1 L109.7,1415.2 L110.3,1415.5 L110.9,1419.4 L111.5,1416.6 L112.1,1416.2 L112.7,1419.9 L113.3,1415.7 L113.9,1414.1 L114.5,1414.8 L115.1,1417.9 L115.7,1417.1 L116.3,1416.5 L116.9,1412.5 L117.5,1412.6 L118.1,1411.6 L118.7,1412.2 L119.3,1415.6 L120.0,1415.8 L120.6,1413.1 L121.2,1411.7 L121.8,1412.6 L122.4,1415.6 L123.0,1410.6 L123.6,1411.4 L124.2,1417.7 L124.8,1417.2 L125.4,1414.2 L126.0,1414.3 L126.6,1417.4 L127.2,1413.7 L127.8,1413.3 L128.4,1419.4 L129.0,1417.2 L129.6,1415.4 L130.2,1412.7 L130.8,1413.8 L131.4,1414.8 L132.0,1415.3 L132.6,1413.6 L133.2,1413.3 L133.8,1412.2 L134.4,1413.8 L135.0,1417.0 L135.6,1416.4 L136.2,1416.3 L136.8,1417.6 L137.4,1416.3 L138.0,1413.3 L138.6,1416.5 L139.2,1416.6 L139.8,1419.2 L140.4,1417.7 L141.0,1419.6 L141.6,1417.6 L142.2,1415.4 L142.8,1412.2 L143.4,1415.7 L144.0,1413.1 L144.6,1413.8 L145.2,1415.1 L145.8,1415.3 L146.4,1420.7 L147.0,1416.2 L147.6,1412.6 L148.2,1413.0 L148.8,1416.8 L149.4,1419.5 L150.0,1415.2 L150.6,1412.6 L151.2,1414.3 L151.8,1413.2 L152.4,1413.0 L153.0,1411.5 L153.6,1412.3 L154.2,1414.3 L154.8,1414.1 L155.4,1413.0 L156.0,1414.6 L156.6,1416.2 L157.2,1413.6 L157.9,1414.9 L158.5,1415.6 L159.1,1420.6 L159.7,1421.1 L160.3,1420.5 L160.9,1418.2 L161.5,1414.5 L162.1,1413.3 L162.7,1417.4 L163.3,1416.2 L163.9,1414.0 L164.5,1416.3 L165.1,1413.6 L165.7,1416.3 L166.3,1420.0 L166.9,1417.1 L167.5,1416.9 L168.1,1419.2 L168.7,1416.4 L169.3,1413.2 L169.9,1414.3 L170.5,1412.0 L171.1,1412.9 L171.7,1416.0 L172.3,1416.9 L172.9,1415.2 L173.5,1415.8 L174.1,1414.0 L174.7,1415.8 L175.3,1416.8 L175.9,1416.4 L176.5,1415.2 L177.2,1412.9 L177.8,1404.5 L178.5,1396.6 L179.1,1386.5 L179.7,1377.6 L180.4,1367.1 L181.0,1360.9 L181.6,1351.7 L182.2,1343.5 L182.9,1338.9 L183.5,1334.8 L184.2,1330.7 L184.8,1331.7 L185.4,1332.5 L186.1,1336.1 L186.7,1338.0 L187.4,1342.8 L188.0,1346.9 L188.7,1357.7 L189.3,1362.7 L189.9,1367.4 L190.6,1373.8 L191.2,1380.4 L191.8,1383.0 L192.4,1391.0" fill="none" stroke="#0A6EBD" stroke-width="2.3" stroke-linejoin="round" stroke-linecap="round"/><path d="M60.2,171.9 L60.8,172.5 L61.5,173.3 L62.1,173.2 L62.7,172.8 L63.4,173.1 L64.0,173.7 L64.6,174.6 L65.3,174.1 L65.9,173.7 L66.5,174.5 L67.1,175.0 L67.7,176.1 L68.3,176.7 L69.0,176.6 L69.6,176.5 L70.2,178.0 L70.8,177.7 L71.4,177.2 L72.0,176.7 L72.6,176.9 L73.2,177.1 L73.9,177.1 L74.5,177.3 L75.1,177.7 L75.8,179.0 L76.5,181.1 L77.2,183.1 L77.8,184.4 L78.5,187.1 L79.2,188.4 L79.8,190.3 L80.5,191.7 L81.1,194.0 L81.8,195.9 L82.4,198.2 L83.0,201.7 L83.7,202.6 L84.3,203.4 L84.9,202.6 L85.6,202.6 L86.2,203.0 L86.8,203.0 L87.5,203.3 L88.1,203.3 L88.7,202.7 L89.4,203.1 L90.0,202.7 L90.6,203.7 L91.2,203.3 L91.8,203.6 L92.4,203.5 L93.0,203.9 L93.6,203.4 L94.2,203.9 L94.8,203.7 L95.4,204.2 L96.0,204.4 L96.6,204.2 L97.2,203.5 L97.8,203.9 L98.4,204.0 L99.0,204.7 L99.6,204.2 L100.2,204.3 L100.8,204.3 L101.4,204.2 L102.0,204.1 L102.6,204.0 L103.2,203.5 L103.8,202.9 L104.4,202.7 L105.0,203.1 L105.6,203.9 L106.2,204.2 L106.8,204.6 L107.4,204.7 L108.0,204.8 L108.6,204.6 L109.2,204.7 L109.8,205.3 L110.4,204.7 L111.0,204.1 L111.6,204.9 L112.2,204.7 L112.8,204.9 L113.4,205.0 L114.0,204.1 L114.6,205.2 L115.2,205.7 L115.8,205.3 L116.4,205.3 L117.0,205.0 L117.6,204.1 L118.2,203.9 L118.8,203.9 L119.4,204.3 L120.0,204.5 L120.6,204.2 L121.2,204.7 L121.8,204.0 L122.4,204.3 L123.0,204.6 L123.6,204.2 L124.2,203.0 L124.8,202.5 L125.4,202.7 L126.0,203.0 L126.6,203.9 L127.2,203.2 L127.8,203.1 L128.4,203.4 L129.0,203.3 L129.6,201.9 L130.2,202.5 L130.8,203.9 L131.4,204.2 L132.0,203.5 L132.6,203.2 L133.2,203.3 L133.8,204.5 L134.4,204.6 L135.0,204.3 L135.6,204.9 L136.2,204.5 L136.8,205.2 L137.4,204.5 L138.0,203.9 L138.6,204.1 L139.2,204.7 L139.8,204.7 L140.4,204.5 L141.0,203.3 L141.6,202.8 L142.2,202.5 L142.8,202.3 L143.4,202.7 L144.0,202.6 L144.6,203.0 L145.2,203.1 L145.8,202.8 L146.4,202.9 L147.0,203.1 L147.6,203.5 L148.2,203.2 L148.8,203.0 L149.4,202.2 L150.0,203.2 L150.6,203.9 L151.2,203.6 L151.8,203.2 L152.4,202.5 L153.0,202.6 L153.6,202.8 L154.2,204.0 L154.8,203.9 L155.4,203.3 L156.0,201.9 L156.6,202.8 L157.2,202.9 L157.8,202.0 L158.4,202.2 L159.0,201.5 L159.6,203.6 L160.2,204.0 L160.8,204.1 L161.4,203.8 L162.0,202.4 L162.6,202.4 L163.2,201.6 L163.8,202.2 L164.4,201.1 L165.0,200.9 L165.6,201.9 L166.2,202.9 L166.8,202.2 L167.4,201.5 L168.0,202.2 L168.6,202.7 L169.2,202.2 L169.8,201.9 L170.4,201.7 L171.0,201.2 L171.6,201.1 L172.2,202.0 L172.8,202.5 L173.4,203.6 L174.0,203.4 L174.6,203.2 L175.2,202.5 L175.8,202.5 L176.4,201.8 L177.0,201.0 L177.6,201.6 L178.2,202.6 L178.8,203.0 L179.4,203.6 L180.0,203.6 L180.6,203.0 L181.2,203.0 L181.8,202.7 L182.4,202.0 L183.0,201.2 L183.6,200.6 L184.3,200.4 L185.0,199.2 L185.6,197.0 L186.3,195.6 L187.0,193.2 L187.7,191.2 L188.3,189.8 L189.0,187.1 L189.6,183.7 L190.2,182.0 L190.9,179.5 L191.5,178.3 L192.2,176.6 L192.8,175.5 L193.4,174.4 L194.0,171.7 L194.7,171.0 L195.3,169.7 L195.9,169.0 L196.5,169.2 L197.1,170.7 L197.7,172.4 L198.3,174.3 L198.9,174.5 L199.5,175.4 L200.2,175.5 L200.8,177.1 L201.4,179.1 L202.1,180.2 L202.7,182.0 L203.3,183.7 L203.9,185.8 L204.6,186.8 L205.2,187.9 L205.8,189.1 L206.5,191.7 L207.1,193.7" fill="none" stroke="#EE3B40" stroke-width="2.3" stroke-linejoin="round" stroke-linecap="round"/><path d="M46.5,317.4 L47.2,312.6 L48.0,306.5 L48.6,305.2 L49.2,306.9 L49.9,311.0 L50.5,311.6 L51.1,307.6 L51.8,303.2 L52.4,300.0 L53.0,299.1 L53.7,297.3 L54.4,295.3 L55.0,293.9 L55.7,293.8 L56.3,293.2 L57.0,293.9 L57.6,295.2 L58.2,298.1 L58.9,299.0 L59.5,301.0 L60.2,301.1 L60.8,303.1 L61.4,304.4 L62.1,305.3 L62.7,307.0 L63.4,309.5 L64.0,311.0 L64.7,313.7 L65.3,316.7 L66.0,319.5 L66.6,322.1 L67.3,322.4 L67.9,324.1 L68.5,325.0 L69.1,327.2 L69.7,328.7 L70.3,330.3 L71.0,332.0 L71.6,333.0 L72.2,334.6 L72.8,335.6 L73.4,338.6 L74.0,339.6 L74.6,341.0 L75.2,341.2 L75.8,342.0 L76.4,343.3 L77.0,345.8 L77.6,348.0 L78.2,349.8 L78.8,351.0 L79.5,353.7 L80.1,354.5 L80.7,355.5 L81.3,357.2 L81.9,358.0 L82.5,359.6 L83.1,361.3 L83.7,362.3 L84.3,363.5 L84.9,364.4 L85.5,365.1 L86.2,364.7 L86.8,365.4 L87.4,366.7 L88.0,367.2 L88.7,368.2 L89.3,369.4 L89.9,370.8 L90.5,371.0 L91.2,371.5 L91.8,372.1 L92.4,372.6 L93.0,372.3 L93.7,373.3 L94.3,373.1 L94.9,373.8 L95.6,373.8 L96.2,374.1 L96.8,375.1 L97.5,375.4 L98.1,375.4 L98.7,374.6 L99.4,374.1 L100.0,373.1 L100.6,374.7 L101.2,373.5 L101.8,371.8 L102.4,373.4 L103.0,374.5 L103.6,374.1 L104.2,374.7 L104.8,374.1 L105.4,373.7 L106.0,374.1 L106.6,374.4 L107.2,374.1 L107.8,375.2 L108.4,375.6 L109.0,375.4 L109.6,374.4 L110.2,374.4 L110.8,374.2 L111.4,374.1 L112.0,374.7 L112.6,374.2 L113.2,374.4 L113.8,374.9 L114.4,375.1 L115.0,376.6 L115.6,374.9 L116.2,374.7 L116.8,373.8 L117.4,373.8 L118.0,375.7 L118.6,374.3 L119.2,374.1 L119.8,374.6 L120.4,374.6 L121.0,375.2 L121.6,373.9 L122.2,374.6 L122.8,373.9 L123.4,373.1 L124.0,373.7 L124.6,374.1 L125.2,373.6 L125.8,373.2 L126.4,373.2 L127.0,373.4 L127.6,373.4 L128.2,372.9 L128.8,371.4 L129.4,372.9 L130.0,373.3 L130.6,372.6 L131.2,371.7 L131.8,371.7 L132.4,371.9 L133.0,370.8 L133.6,372.4 L134.2,373.0 L134.8,373.0 L135.4,373.5 L136.0,373.8 L136.6,374.6 L137.2,374.7 L137.8,375.5 L138.4,376.4 L139.0,375.8 L139.6,375.2 L140.2,374.4 L140.8,374.2 L141.4,373.7 L142.0,373.8 L142.6,374.1 L143.2,374.5 L143.8,373.7 L144.4,374.5 L145.0,374.3 L145.6,374.2 L146.2,373.8 L146.8,372.5 L147.4,373.0 L148.0,372.0 L148.6,373.2 L149.2,373.4 L149.8,374.7 L150.4,375.1 L151.0,375.4 L151.6,376.2 L152.2,375.8 L152.8,376.7 L153.4,376.1 L154.0,376.0 L154.6,375.2 L155.2,375.4 L155.8,375.7 L156.4,375.1 L157.0,374.0 L157.6,374.0 L158.2,374.4 L158.8,374.3 L159.4,373.6 L160.0,373.2 L160.6,373.2 L161.2,371.5 L161.8,371.6 L162.4,373.1 L163.0,372.4 L163.6,372.6 L164.2,374.1 L164.8,374.6 L165.4,375.2 L166.0,375.0 L166.7,373.9 L167.3,376.0 L167.9,375.9 L168.5,375.8 L169.1,376.7 L169.7,376.9 L170.3,376.4 L170.9,375.3 L171.5,375.0 L172.1,374.8 L172.7,374.2 L173.3,373.6 L173.9,373.0 L174.5,373.2 L175.1,372.9 L175.7,373.5 L176.3,374.4 L176.9,374.6 L177.5,374.5 L178.1,375.6 L178.7,375.8 L179.3,374.5 L179.9,374.0 L180.5,374.2 L181.1,373.6 L181.7,374.2 L182.3,373.0 L182.9,371.9 L183.5,373.0 L184.1,373.7 L184.7,372.6 L185.3,373.0 L185.9,374.2 L186.5,373.4 L187.1,372.7 L187.7,372.1 L188.3,371.8 L188.9,371.0 L189.5,371.3 L190.1,370.8 L190.7,371.5 L191.3,373.6 L191.9,372.9 L192.5,373.8 L193.1,374.8 L193.7,373.0 L194.3,373.3 L194.9,373.5 L195.5,373.4 L196.1,374.1 L196.7,373.9 L197.3,374.2 L197.9,373.9 L198.5,373.9 L199.1,373.4 L199.7,375.2 L200.3,375.0 L200.9,374.1 L201.5,375.5 L202.1,376.4 L202.7,375.9 L203.3,375.1 L203.9,374.5 L204.5,375.3 L205.1,374.9 L205.7,374.3 L206.3,374.9 L206.9,374.6 L207.5,374.5 L208.1,375.9 L208.7,376.2 L209.3,376.7 L209.9,376.6 L210.5,377.1 L211.1,376.5 L211.7,376.8 L212.3,377.1 L212.9,376.3 L213.5,375.0 L214.1,375.3 L214.7,375.0 L215.3,375.3 L215.9,374.7 L216.5,375.0 L217.1,375.6 L217.7,377.0 L218.3,377.8 L218.9,377.5 L219.5,377.9 L220.1,376.8 L220.7,377.2 L221.3,376.8 L221.9,377.3 L222.5,377.0 L223.1,376.4 L223.7,375.5 L224.3,376.2 L224.9,375.9 L225.5,376.1 L226.1,376.1 L226.7,374.3 L227.3,374.8 L227.9,374.4 L228.5,374.7 L229.1,375.0 L229.7,373.5 L230.3,373.5 L230.9,373.6 L231.5,374.0 L232.1,374.7 L232.7,374.1 L233.3,374.0 L233.9,374.4 L234.5,372.9 L235.1,374.3 L235.7,373.3 L236.3,374.1 L236.9,373.8 L237.5,374.6 L238.1,374.7 L238.7,373.8 L239.3,371.8 L239.9,371.4 L240.5,371.0 L241.1,370.8 L241.7,369.2 L242.3,368.0 L242.9,367.0 L243.5,366.6 L244.1,365.0 L244.7,363.7 L245.3,362.9 L245.9,360.7 L246.6,359.8 L247.2,357.8 L247.8,355.4 L248.4,354.0 L249.0,352.0 L249.6,349.4 L250.2,346.4 L250.8,343.7 L251.4,341.1 L252.1,339.0 L252.7,336.3 L253.3,333.0 L253.9,329.6 L254.5,327.8 L255.1,326.4 L255.7,325.6 L256.3,323.6 L257.0,321.1 L257.6,320.4 L258.2,319.0 L258.8,316.9 L259.4,317.3 L260.1,317.0 L260.7,316.3 L261.3,316.0 L261.9,315.1 L262.5,315.6 L263.1,315.0 L263.7,314.4 L264.4,314.1 L265.0,313.2 L265.6,314.0 L266.2,315.1 L266.8,315.4 L267.4,313.5 L268.0,313.3 L268.6,312.8 L269.2,313.2 L269.8,311.6 L270.4,310.4 L271.1,310.5 L271.7,311.7 L272.3,311.7 L272.9,313.5 L273.5,312.7" fill="none" stroke="#EE3B40" stroke-width="2.3" stroke-linejoin="round" stroke-linecap="round"/><path d="M65.5,516.0 L66.2,513.3 L66.8,509.6 L67.5,507.4 L68.1,502.9 L68.8,499.6 L69.4,497.0 L70.0,494.5 L70.7,492.5 L71.3,490.3 L72.0,490.5 L72.7,489.6 L73.4,489.2 L74.0,489.0 L74.7,488.8 L75.4,488.3 L76.1,489.0 L76.7,488.7 L77.4,489.0 L78.0,487.8 L78.7,487.9 L79.3,487.6 L79.9,487.7 L80.6,487.6 L81.2,487.8 L81.8,488.1 L82.5,489.4 L83.1,491.3 L83.8,493.8 L84.4,496.5 L85.0,499.1 L85.7,502.2 L86.3,504.4 L86.9,508.5 L87.6,512.4 L88.2,517.0 L88.8,520.5 L89.5,523.2 L90.1,525.4 L90.8,527.2 L91.4,528.1 L92.0,528.4 L92.6,528.7 L93.2,529.5 L93.9,528.6 L94.5,530.1 L95.1,530.2 L95.7,530.5 L96.3,529.8 L96.9,530.3 L97.5,529.8 L98.2,530.4 L98.8,530.8 L99.4,531.1 L100.0,531.1 L100.6,531.0 L101.2,530.9 L101.8,531.5 L102.4,531.6 L103.0,531.7 L103.6,533.0 L104.2,532.8 L104.8,532.0 L105.4,530.7 L106.0,529.5 L106.6,529.9 L107.2,530.7 L107.8,530.3 L108.5,529.9 L109.1,530.1 L109.7,530.4 L110.3,531.1 L110.9,531.1 L111.5,530.8 L112.1,531.3 L112.7,530.8 L113.3,530.1 L113.9,529.8 L114.5,529.9 L115.1,529.9 L115.7,530.2 L116.3,530.5 L116.9,532.0 L117.5,532.1 L118.1,530.8 L118.7,530.1 L119.3,530.4 L119.9,530.2 L120.5,531.6 L121.1,531.3 L121.7,531.1 L122.3,531.2 L122.9,531.1 L123.5,531.5 L124.2,531.3 L124.8,531.5 L125.4,531.1 L126.0,529.7 L126.6,530.2 L127.2,531.3 L127.8,530.8 L128.4,530.6 L129.0,531.2 L129.6,530.9 L130.2,531.0 L130.8,531.0 L131.4,531.4 L132.0,531.3 L132.6,532.4 L133.2,532.2 L133.8,531.9 L134.4,531.0 L135.0,531.1 L135.6,530.6 L136.2,531.1 L136.8,531.4 L137.4,532.8 L138.0,532.1 L138.6,532.0 L139.2,532.4 L139.9,531.1 L140.5,531.4 L141.1,532.4 L141.7,532.2 L142.3,532.0 L142.9,532.5 L143.5,532.4 L144.1,532.3 L144.7,532.5 L145.3,531.8 L145.9,532.7 L146.5,532.2 L147.1,532.0 L147.7,531.6 L148.3,530.0 L148.9,529.3 L149.5,529.4 L150.1,529.6 L150.7,530.5 L151.3,532.0 L151.9,532.2 L152.5,531.9 L153.1,531.3 L153.7,532.0 L154.3,531.4 L154.9,531.2 L155.6,531.9 L156.2,531.6 L156.8,531.3 L157.4,531.3 L158.0,530.2 L158.6,530.2 L159.2,530.4 L159.8,530.6 L160.4,530.4 L161.0,529.2 L161.6,528.9 L162.2,529.6 L162.8,529.3 L163.4,529.0 L164.0,529.5 L164.6,530.0 L165.2,530.1 L165.8,530.4 L166.4,530.8 L167.0,531.0 L167.6,531.0 L168.2,531.9 L168.8,530.9 L169.4,532.0 L170.0,531.8 L170.7,531.0 L171.3,531.2 L171.9,531.5 L172.5,530.5 L173.1,530.5 L173.7,530.8 L174.3,531.1 L174.9,530.8 L175.5,530.0 L176.1,529.9 L176.7,531.0 L177.3,530.2 L177.9,531.8 L178.5,531.3 L179.1,530.1 L179.8,527.4 L180.4,524.0 L181.1,519.9 L181.7,514.6 L182.3,510.8 L183.0,506.5 L183.6,502.0 L184.3,496.1 L185.0,490.2 L185.6,484.3 L186.3,479.1 L187.0,474.0 L187.7,469.4 L188.3,466.5 L188.9,463.6 L189.6,461.2 L190.2,460.0 L190.8,458.9 L191.4,458.8 L192.0,461.4 L192.6,464.5 L193.2,466.6 L193.8,469.9 L194.5,473.1 L195.2,477.6 L195.9,482.5 L196.5,486.5 L197.2,490.8 L197.9,495.5 L198.6,499.6 L199.3,504.2 L199.9,509.1 L200.6,514.1 L201.3,518.4 L202.0,521.3 L202.7,524.0 L203.4,527.4 L204.1,530.0 L204.7,532.1 L205.4,532.8 L206.1,533.0 L207.1,529.9" fill="none" stroke="#EE3B40" stroke-width="2.3" stroke-linejoin="round" stroke-linecap="round"/><path d="M29.2,661.3 L29.9,653.3 L30.5,645.4 L31.2,642.2 L31.8,642.1 L32.4,641.3 L33.0,641.6 L33.7,641.6 L34.3,641.6 L34.9,641.8 L35.5,642.0 L36.1,642.8 L36.7,643.1 L37.3,643.1 L37.9,642.7 L38.6,642.2 L39.2,642.5 L39.8,643.4 L40.4,643.5 L41.0,643.8 L41.6,645.2 L42.3,645.9 L42.9,647.8 L43.5,650.4 L44.1,653.3 L44.7,655.5 L45.4,658.0 L46.0,660.1 L46.6,662.2 L47.2,663.0 L47.8,664.8 L48.5,665.4 L49.1,665.6 L49.7,667.1 L50.3,668.3 L51.0,670.5 L51.6,672.4 L52.2,673.0 L52.8,674.8 L53.5,675.3 L54.1,676.3 L54.7,677.0 L55.3,677.8 L55.9,678.9 L56.5,679.8 L57.1,680.5 L57.7,681.2 L58.3,681.8 L59.0,681.8 L59.6,681.8 L60.2,682.0 L60.8,682.7 L61.4,683.0 L62.0,684.6 L62.6,684.3 L63.2,684.0 L63.8,684.7 L64.4,685.8 L65.0,686.2 L65.6,686.7 L66.2,687.6 L66.8,687.5 L67.5,686.7 L68.1,686.6 L68.7,687.4 L69.3,686.8 L69.9,687.2 L70.5,687.7 L71.1,687.8 L71.7,688.5 L72.3,689.1 L72.9,690.6 L73.6,690.9 L74.2,690.6 L74.8,690.4 L75.4,690.2 L76.0,691.1 L76.6,691.0 L77.2,691.2 L77.8,692.0 L78.5,691.8 L79.1,691.9 L79.7,691.3 L80.3,691.2 L80.9,691.4 L81.5,692.2 L82.1,693.3 L82.8,693.6 L83.4,694.0 L84.0,694.3 L84.6,695.1 L85.2,695.6 L85.8,695.7 L86.4,695.1 L87.0,695.7 L87.7,695.9 L88.3,696.4 L88.9,696.2 L89.5,697.1 L90.1,696.6 L90.7,697.1 L91.3,696.8 L91.9,696.1 L92.5,695.2 L93.2,694.9 L93.8,695.5 L94.4,695.6 L95.0,695.6 L95.6,694.0 L96.2,694.2 L96.8,694.3 L97.4,693.8 L98.0,693.3 L98.7,693.2 L99.3,694.1 L99.9,693.3 L100.5,693.0 L101.1,693.7 L101.7,693.3 L102.3,693.1 L102.9,693.2 L103.5,692.5 L104.1,692.8 L104.7,692.2 L105.3,692.9 L105.9,693.1 L106.5,694.4 L107.1,694.4 L107.7,695.1 L108.3,694.2 L108.9,694.1 L109.5,694.3 L110.1,695.2 L110.7,694.2 L111.3,694.8 L112.0,695.0 L112.6,695.8 L113.2,696.0 L113.8,695.8 L114.4,695.4 L115.0,694.6 L115.6,694.8 L116.2,694.8 L116.8,695.9 L117.4,695.5 L118.0,695.6 L118.6,694.7 L119.2,694.6 L119.8,694.9 L120.4,695.4 L121.0,696.2 L121.6,696.0 L122.2,695.2 L122.8,695.5 L123.4,695.7 L124.0,695.8 L124.6,695.2 L125.2,695.7 L125.8,695.5 L126.4,695.7 L127.0,696.1 L127.6,696.0 L128.2,695.8 L128.8,696.5 L129.4,696.1 L130.0,695.4 L130.7,695.1 L131.3,695.5 L131.9,695.1 L132.5,694.9 L133.1,695.1 L133.7,694.4 L134.3,693.1 L134.9,693.1 L135.5,693.1 L136.1,692.6 L136.7,693.0 L137.3,693.2 L137.9,692.5 L138.5,692.8 L139.1,692.6 L139.7,691.8 L140.3,692.2 L141.0,692.3 L141.6,691.9 L142.2,692.4 L142.8,692.7 L143.4,692.4 L144.0,692.8 L144.6,693.4 L145.3,692.9 L145.9,693.2 L146.5,693.2 L147.1,694.4 L147.7,693.2 L148.3,693.6 L148.9,693.5 L149.6,693.4 L150.2,694.5 L150.8,694.3 L151.4,695.4 L152.0,694.9 L152.6,694.9 L153.2,694.5 L153.9,694.0 L154.5,694.0 L155.1,693.9 L155.7,694.0 L156.3,692.9 L156.9,694.2 L157.5,694.1 L158.2,695.0 L158.8,694.3 L159.4,694.4 L160.0,696.0 L160.6,695.2 L161.2,694.2 L161.8,693.9 L162.4,694.1 L163.0,694.5 L163.6,695.1 L164.2,694.7 L164.8,693.7 L165.5,693.5 L166.1,694.3 L166.7,694.4 L167.3,693.3 L167.9,693.4 L168.5,694.2 L169.1,695.3 L169.7,695.3 L170.3,695.2 L170.9,694.3 L171.5,693.7 L172.1,693.7 L172.7,694.0 L173.3,694.2 L173.9,693.9 L174.5,693.2 L175.2,692.9 L175.8,692.4 L176.4,692.9 L177.0,691.8 L177.6,691.9 L178.2,692.4 L178.8,693.4 L179.4,693.5 L180.0,694.0 L180.6,693.7 L181.2,693.2 L181.8,692.9 L182.4,693.8 L183.0,694.2 L183.6,694.3 L184.2,695.9 L184.8,695.4 L185.5,695.4 L186.1,695.1 L186.7,694.7 L187.3,695.6 L187.9,696.0 L188.5,694.7 L189.1,694.2 L189.7,694.2 L190.3,694.5 L190.9,693.5 L191.5,692.2 L192.1,691.3 L192.7,691.6 L193.3,691.8 L193.9,692.2 L194.5,691.9 L195.2,691.4 L195.8,690.6 L196.4,691.2 L197.0,691.8 L197.6,692.5 L198.2,693.0 L198.8,692.9 L199.4,693.7 L200.0,693.5 L200.6,693.0 L201.2,692.7 L201.8,692.5 L202.4,691.4 L203.0,691.8 L203.6,692.1 L204.2,692.1 L204.8,691.9 L205.4,692.3 L206.0,693.4 L206.6,693.3 L207.2,693.0 L207.8,692.7 L208.5,692.7 L209.1,692.1 L209.7,692.2 L210.3,692.4 L210.9,693.5 L211.5,694.0 L212.1,694.4 L212.7,693.8 L213.3,694.0 L213.9,693.2 L214.5,693.4 L215.1,693.5 L215.7,693.1 L216.3,694.1 L216.9,694.1 L217.5,692.4 L218.1,692.0 L218.7,690.7 L219.4,689.6 L220.0,688.5 L220.6,687.2 L221.2,684.4 L221.8,682.3 L222.4,681.3 L223.1,679.9 L223.7,678.1 L224.3,675.5 L225.0,670.4 L225.7,666.9 L226.3,661.9 L226.9,659.2 L227.6,655.9 L228.2,652.2 L228.9,650.2 L229.5,647.4 L230.1,643.2 L230.8,640.6 L231.4,637.4 L232.1,635.0 L232.7,632.4 L233.3,630.9 L234.0,627.9 L234.6,626.0 L235.2,625.0 L235.9,622.5 L236.5,620.8 L237.2,619.3 L237.8,617.4 L238.4,616.4 L239.1,615.0 L239.7,613.1 L240.4,612.8 L241.0,612.0 L241.6,610.8 L242.3,609.8 L242.9,609.1 L243.5,609.9 L244.2,610.0 L244.8,610.5 L245.4,610.8 L246.1,611.6 L246.7,611.9 L247.4,612.7 L248.0,612.9" fill="none" stroke="#EE3B40" stroke-width="2.3" stroke-linejoin="round" stroke-linecap="round"/><path d="M68.6,855.0 L69.2,854.2 L69.8,853.0 L70.5,852.0 L71.1,850.0 L71.7,848.8 L72.3,847.4 L73.0,845.3 L73.6,844.8 L74.2,843.4 L74.9,841.5 L75.5,840.4 L76.2,839.3 L76.9,838.5 L77.5,838.9 L78.2,838.7 L78.8,840.1 L79.4,840.4 L80.1,841.6 L80.7,842.6 L81.3,842.5 L82.0,844.5 L82.7,847.4 L83.3,851.0 L84.0,853.1 L84.7,856.7 L85.4,859.7 L86.1,860.8 L86.8,862.6 L87.5,864.9 L88.1,864.9 L88.8,866.7 L89.5,866.7 L90.2,868.7 L90.8,871.5 L91.5,871.9 L92.1,872.3 L92.7,871.2 L93.3,870.9 L93.9,870.7 L94.5,871.5 L95.1,871.4 L95.7,872.0 L96.3,872.0 L96.9,871.5 L97.5,871.7 L98.1,871.9 L98.7,871.7 L99.3,872.3 L99.9,871.7 L100.5,871.8 L101.1,872.2 L101.7,871.8 L102.4,871.8 L103.0,871.8 L103.6,870.8 L104.2,872.0 L104.8,871.8 L105.4,872.1 L106.0,870.0 L106.6,871.0 L107.2,870.7 L107.8,870.1 L108.4,870.1 L109.0,870.9 L109.6,869.7 L110.2,870.5 L110.8,869.7 L111.4,870.6 L112.0,870.8 L112.6,871.6 L113.2,871.9 L113.8,871.1 L114.4,870.8 L115.0,871.1 L115.6,870.8 L116.2,870.8 L116.8,870.1 L117.4,870.7 L118.0,872.4 L118.6,872.8 L119.2,872.8 L119.8,871.7 L120.4,871.5 L121.0,872.2 L121.6,871.9 L122.2,872.2 L122.8,871.7 L123.5,871.3 L124.1,871.3 L124.7,870.9 L125.3,870.5 L125.9,870.7 L126.5,870.5 L127.1,869.1 L127.7,869.8 L128.3,871.0 L128.9,871.1 L129.5,870.7 L130.1,869.9 L130.7,869.5 L131.3,869.5 L131.9,870.3 L132.5,870.3 L133.1,870.2 L133.7,869.5 L134.3,869.7 L134.9,869.3 L135.5,870.7 L136.1,870.9 L136.7,870.7 L137.3,871.8 L137.9,872.7 L138.5,872.4 L139.1,871.2 L139.7,871.8 L140.3,871.3 L140.9,871.6 L141.5,870.7 L142.1,870.4 L142.7,870.2 L143.3,869.7 L143.9,869.1 L144.5,870.0 L145.2,869.8 L145.8,870.8 L146.4,871.1 L147.0,871.1 L147.6,871.4 L148.2,871.0 L148.8,870.8 L149.4,871.0 L150.0,871.0 L150.6,870.5 L151.2,871.0 L151.8,871.2 L152.4,872.0 L153.0,871.4 L153.6,872.8 L154.2,872.5 L154.8,872.8 L155.4,872.8 L156.0,871.4 L156.6,871.1 L157.2,871.8 L157.8,872.5 L158.4,872.0 L159.0,872.8 L159.6,873.2 L160.2,872.4 L160.8,873.0 L161.4,872.6 L162.0,871.4 L162.6,871.7 L163.2,871.6 L163.8,871.1 L164.4,870.3 L165.0,870.0 L165.6,870.9 L166.3,870.5 L166.9,869.7 L167.5,869.2 L168.1,870.1 L168.7,871.2 L169.3,870.4 L169.9,870.0 L170.5,870.5 L171.1,871.1 L171.7,870.7 L172.3,870.9 L172.9,871.9 L173.5,871.2 L174.1,870.9 L174.7,870.9 L175.3,871.1 L175.9,870.9 L176.5,870.1 L177.2,867.7 L177.8,862.3 L178.5,853.1 L179.2,843.5 L179.8,834.6 L180.5,829.5 L181.1,824.5 L181.7,819.0 L182.4,815.7 L183.0,813.2 L183.6,811.5 L184.3,811.3 L185.0,811.0 L185.6,811.1 L186.3,810.8 L187.0,810.7 L187.7,810.2 L188.3,810.5 L188.9,811.6 L189.6,812.7 L190.2,813.8 L190.8,814.2 L191.5,816.9 L192.2,820.5 L192.9,824.9 L193.5,830.9 L194.2,835.8 L194.9,840.2 L195.6,844.7 L196.2,848.1 L196.9,852.7 L197.6,857.4 L198.2,862.5 L198.9,867.4" fill="none" stroke="#EE3B40" stroke-width="2.3" stroke-linejoin="round" stroke-linecap="round"/><path d="M69.0,1017.5 L69.6,1017.0 L70.2,1017.1 L70.9,1016.7 L71.5,1015.2 L72.1,1015.2 L72.7,1014.3 L73.4,1014.0 L74.0,1013.6 L74.7,1013.4 L75.3,1012.2 L75.9,1010.9 L76.6,1010.4 L77.2,1010.3 L77.8,1009.3 L78.4,1009.7 L79.1,1010.2 L79.7,1012.0 L80.3,1013.3 L80.9,1015.1 L81.6,1018.0 L82.2,1020.9 L82.8,1023.2 L83.5,1026.2 L84.1,1029.9 L84.8,1032.7 L85.4,1034.9 L86.1,1038.2 L86.8,1041.4 L87.5,1043.8 L88.1,1046.0 L88.8,1048.2 L89.5,1048.8 L90.1,1048.7 L90.7,1049.4 L91.3,1050.3 L91.9,1049.7 L92.6,1049.6 L93.2,1050.1 L93.8,1050.2 L94.4,1050.6 L95.0,1050.8 L95.6,1052.0 L96.2,1050.8 L96.8,1050.9 L97.4,1050.3 L98.0,1049.2 L98.6,1048.9 L99.2,1048.8 L99.8,1049.5 L100.4,1049.4 L101.0,1049.1 L101.6,1048.7 L102.2,1049.0 L102.8,1049.5 L103.4,1049.0 L104.0,1049.3 L104.6,1049.5 L105.2,1049.4 L105.8,1049.3 L106.4,1049.2 L107.0,1049.0 L107.6,1048.7 L108.2,1048.9 L108.8,1048.9 L109.4,1048.9 L110.0,1048.4 L110.6,1049.1 L111.2,1049.2 L111.8,1051.0 L112.4,1052.2 L113.0,1051.7 L113.6,1052.6 L114.2,1051.6 L114.8,1050.4 L115.4,1049.9 L116.0,1049.7 L116.6,1049.9 L117.2,1051.0 L117.8,1050.2 L118.4,1050.2 L119.0,1050.7 L119.6,1050.6 L120.2,1051.4 L120.8,1051.6 L121.4,1052.2 L122.0,1052.3 L122.6,1052.0 L123.2,1051.8 L123.8,1050.8 L124.4,1050.8 L125.0,1050.7 L125.6,1050.5 L126.2,1050.2 L126.8,1050.0 L127.4,1050.7 L128.0,1050.5 L128.6,1050.6 L129.2,1050.7 L129.8,1049.7 L130.4,1049.6 L131.0,1049.5 L131.6,1048.2 L132.2,1048.6 L132.8,1048.4 L133.4,1048.7 L134.0,1049.4 L134.6,1049.3 L135.2,1049.1 L135.8,1049.2 L136.4,1049.8 L137.0,1049.2 L137.6,1048.7 L138.2,1048.8 L138.8,1048.7 L139.4,1049.4 L140.0,1049.4 L140.6,1049.5 L141.2,1049.3 L141.8,1048.6 L142.4,1049.1 L143.0,1049.3 L143.6,1049.3 L144.2,1048.9 L144.8,1049.6 L145.4,1050.3 L146.0,1050.7 L146.6,1050.5 L147.2,1049.8 L147.8,1049.4 L148.4,1048.8 L149.0,1048.7 L149.6,1049.9 L150.2,1049.3 L150.8,1050.0 L151.4,1049.4 L152.0,1049.6 L152.6,1048.7 L153.2,1048.9 L153.8,1048.2 L154.4,1048.5 L155.0,1048.5 L155.6,1049.1 L156.2,1049.9 L156.8,1049.5 L157.4,1049.8 L158.0,1049.5 L158.6,1049.3 L159.2,1049.4 L159.8,1049.0 L160.4,1049.5 L161.0,1049.3 L161.6,1049.8 L162.2,1049.7 L162.8,1049.7 L163.4,1049.4 L164.0,1049.0 L164.6,1049.1 L165.2,1049.7 L165.8,1049.1 L166.4,1048.9 L167.0,1048.9 L167.6,1048.6 L168.2,1048.8 L168.8,1049.6 L169.4,1050.1 L170.0,1048.0 L170.6,1047.7 L171.2,1048.1 L171.8,1048.2 L172.4,1049.1 L173.0,1048.9 L173.6,1049.5 L174.2,1049.5 L174.8,1048.6 L175.4,1049.0 L176.1,1048.2 L176.8,1046.6 L177.4,1043.0 L178.1,1039.6 L178.8,1034.8 L179.5,1030.7 L180.1,1026.9 L180.7,1021.7 L181.4,1016.6 L182.0,1012.4 L182.6,1009.3 L183.2,1006.2 L183.9,1003.2 L184.5,1001.3 L185.2,1000.2 L185.9,1001.0 L186.6,1003.5 L187.3,1005.3 L188.0,1008.6 L188.7,1011.7 L189.3,1014.7 L189.9,1018.1 L190.6,1021.7 L191.2,1025.5 L191.8,1027.9 L192.4,1028.7 L193.0,1030.1 L193.7,1032.4 L194.3,1033.8 L194.9,1034.6 L195.5,1036.3" fill="none" stroke="#EE3B40" stroke-width="2.3" stroke-linejoin="round" stroke-linecap="round"/><path d="M27.8,1186.2 L28.4,1187.8 L29.1,1189.4 L29.8,1190.5 L30.4,1191.2 L31.0,1192.3 L31.7,1193.5 L32.3,1194.0 L33.0,1194.3 L33.6,1195.1 L34.3,1196.7 L34.9,1197.8 L35.5,1198.9 L36.1,1201.0 L36.7,1202.3 L37.3,1203.4 L37.9,1205.1 L38.5,1205.9 L39.1,1207.3 L39.7,1208.5 L40.3,1209.8 L40.9,1211.3 L41.5,1212.3 L42.1,1213.9 L42.7,1215.0 L43.3,1216.6 L43.9,1218.3 L44.5,1218.9 L45.1,1220.0 L45.8,1222.1 L46.4,1224.2 L47.0,1227.0 L47.7,1228.9 L48.3,1229.8 L48.9,1232.0 L49.5,1234.3 L50.2,1235.2 L50.8,1236.2 L51.4,1236.5 L52.1,1237.3 L52.7,1237.8 L53.4,1237.8 L54.0,1238.5 L54.7,1238.8 L55.3,1239.6 L56.0,1239.6 L56.6,1238.2 L57.2,1238.2 L57.8,1238.6 L58.4,1238.3 L59.0,1238.4 L59.6,1237.7 L60.2,1238.0 L60.8,1237.9 L61.4,1236.5 L62.0,1237.2 L62.6,1237.7 L63.2,1237.9 L63.8,1237.8 L64.4,1238.3 L65.0,1238.6 L65.6,1238.5 L66.2,1238.6 L66.8,1238.1 L67.4,1238.3 L68.0,1238.0 L68.6,1239.3 L69.2,1240.0 L69.8,1240.4 L70.4,1240.0 L71.0,1239.9 L71.6,1240.2 L72.2,1239.5 L72.8,1239.9 L73.4,1239.2 L74.0,1238.2 L74.7,1238.9 L75.3,1239.4 L75.9,1239.2 L76.5,1239.7 L77.1,1239.7 L77.7,1238.6 L78.3,1237.8 L78.9,1237.7 L79.5,1238.4 L80.1,1239.3 L80.7,1238.3 L81.3,1237.7 L81.9,1238.6 L82.5,1238.3 L83.1,1238.0 L83.7,1238.6 L84.3,1238.7 L84.9,1239.0 L85.5,1239.3 L86.1,1238.4 L86.7,1238.7 L87.3,1239.1 L87.9,1238.1 L88.5,1238.6 L89.1,1238.7 L89.7,1238.2 L90.3,1238.4 L90.9,1238.5 L91.5,1238.0 L92.1,1237.8 L92.7,1238.7 L93.3,1238.7 L93.9,1238.3 L94.5,1237.9 L95.1,1238.4 L95.7,1238.4 L96.3,1238.2 L96.9,1238.0 L97.5,1238.2 L98.1,1238.2 L98.7,1238.9 L99.3,1238.9 L99.9,1238.5 L100.5,1237.7 L101.1,1237.5 L101.7,1238.1 L102.3,1239.0 L102.9,1238.9 L103.5,1238.4 L104.1,1238.3 L104.7,1238.5 L105.3,1238.7 L105.9,1238.0 L106.5,1238.5 L107.1,1239.3 L107.7,1239.4 L108.3,1239.2 L108.9,1239.3 L109.5,1238.8 L110.1,1238.5 L110.7,1239.2 L111.3,1238.9 L112.0,1238.7 L112.6,1237.9 L113.2,1238.6 L113.8,1237.8 L114.4,1237.5 L115.0,1237.5 L115.6,1236.7 L116.2,1235.4 L116.8,1235.9 L117.4,1237.1 L118.0,1238.0 L118.6,1238.7 L119.2,1237.9 L119.8,1237.7 L120.4,1237.2 L121.0,1237.0 L121.6,1236.8 L122.2,1236.4 L122.8,1236.4 L123.4,1237.7 L124.0,1238.4 L124.6,1238.9 L125.2,1238.5 L125.8,1238.5 L126.4,1238.3 L127.0,1238.9 L127.6,1239.2 L128.2,1239.5 L128.8,1240.1 L129.4,1239.4 L130.0,1238.5 L130.6,1238.1 L131.2,1237.2 L131.8,1237.4 L132.4,1237.3 L133.0,1236.8 L133.6,1237.0 L134.2,1236.4 L134.8,1236.9 L135.4,1237.2 L136.0,1237.0 L136.6,1237.5 L137.2,1237.3 L137.8,1236.9 L138.4,1236.7 L139.0,1236.1 L139.6,1237.1 L140.2,1237.0 L140.8,1237.0 L141.4,1238.7 L142.0,1238.1 L142.6,1238.8 L143.2,1238.7 L143.8,1239.1 L144.4,1238.1 L145.0,1237.1 L145.6,1238.6 L146.2,1238.0 L146.8,1237.1 L147.4,1237.2 L148.0,1237.3 L148.7,1236.7 L149.3,1236.9 L149.9,1236.6 L150.5,1236.3 L151.1,1236.8 L151.7,1237.8 L152.3,1238.7 L152.9,1238.0 L153.5,1237.8 L154.1,1237.7 L154.7,1237.3 L155.3,1238.0 L155.9,1238.4 L156.5,1238.3 L157.1,1238.6 L157.7,1237.9 L158.3,1237.9 L158.9,1238.4 L159.5,1238.0 L160.1,1238.8 L160.7,1238.3 L161.3,1237.8 L161.9,1237.2 L162.5,1238.0 L163.1,1238.8 L163.7,1239.2 L164.3,1239.8 L164.9,1240.5 L165.5,1239.8 L166.1,1240.1 L166.7,1239.0 L167.3,1237.8 L167.9,1237.9 L168.5,1237.7 L169.1,1236.9 L169.7,1236.3 L170.3,1236.7 L170.9,1236.9 L171.5,1236.8 L172.1,1236.2 L172.7,1235.5 L173.3,1237.5 L173.9,1238.5 L174.5,1238.8 L175.1,1238.2 L175.7,1237.6 L176.3,1237.4 L176.9,1237.4 L177.5,1238.0 L178.1,1238.1 L178.7,1238.0 L179.3,1237.5 L179.9,1237.6 L180.5,1236.8 L181.1,1236.0 L181.7,1236.0 L182.3,1236.1 L182.9,1236.9 L183.5,1236.9 L184.1,1237.7 L184.7,1236.8 L185.3,1236.8 L186.0,1237.3 L186.6,1238.4 L187.2,1238.0 L187.8,1238.1 L188.4,1239.1 L189.0,1239.0 L189.6,1238.4 L190.2,1238.8 L190.8,1239.0 L191.4,1238.6 L192.0,1238.8 L192.6,1239.0 L193.2,1238.8 L193.8,1238.7 L194.4,1238.5 L195.0,1238.5 L195.6,1238.9 L196.2,1238.3 L196.8,1237.8 L197.4,1237.9 L198.0,1238.5 L198.6,1237.9 L199.2,1237.5 L199.8,1236.8 L200.4,1236.9 L201.0,1237.3 L201.6,1237.3 L202.2,1237.9 L202.8,1237.0 L203.4,1236.5 L204.0,1237.1 L204.6,1236.5 L205.2,1232.3 L205.9,1227.5 L206.5,1221.9 L207.1,1216.9 L207.8,1211.7 L208.5,1205.7 L209.1,1199.0 L209.8,1191.6 L210.5,1186.0 L211.2,1180.7 L211.8,1175.4 L212.4,1170.7 L213.1,1165.7 L213.7,1162.6 L214.3,1160.9 L214.9,1160.9 L215.6,1160.6 L216.2,1160.8 L216.9,1160.3 L217.5,1159.7 L218.2,1158.9 L218.8,1160.1 L219.5,1159.6 L220.1,1159.8 L220.8,1159.6 L221.4,1160.2 L222.1,1160.5 L222.8,1161.6 L223.4,1163.6 L224.1,1165.3 L224.8,1164.9 L225.5,1165.9" fill="none" stroke="#EE3B40" stroke-width="2.3" stroke-linejoin="round" stroke-linecap="round"/><path d="M72.7,1357.6 L73.4,1359.5 L74.0,1354.0 L74.7,1355.8 L75.3,1358.5 L76.0,1356.0 L76.7,1357.4 L77.3,1358.1 L78.0,1361.9 L78.6,1361.9 L79.3,1363.1 L80.3,1371.4 L80.9,1370.8 L81.6,1375.3 L82.2,1375.0 L82.8,1374.9 L83.5,1373.5 L84.1,1375.0 L84.8,1372.2 L85.4,1373.0 L86.0,1373.7 L86.7,1374.6 L87.3,1374.7 L88.0,1377.6 L88.6,1376.5 L89.2,1378.3 L89.9,1380.4 L90.5,1380.9 L91.1,1382.2 L91.7,1388.6 L92.4,1394.6 L93.0,1396.0 L93.6,1401.6 L94.2,1406.3 L94.8,1416.7 L95.4,1418.5 L96.0,1419.4 L96.6,1419.6 L97.2,1418.2 L97.8,1415.2 L98.5,1417.4 L99.1,1415.8 L99.7,1414.4 L100.4,1412.4 L101.1,1417.1 L101.8,1417.5 L102.4,1414.8 L103.1,1413.7 L103.8,1414.4 L104.4,1419.3 L105.0,1419.5 L105.6,1416.0 L106.2,1415.2 L106.8,1413.5 L107.4,1410.5 L108.0,1414.4 L108.6,1417.3 L109.2,1418.5 L109.8,1416.6 L110.4,1418.6 L111.0,1418.5 L111.7,1417.5 L112.3,1415.7 L112.9,1417.5 L113.5,1415.6 L114.1,1418.2 L114.7,1417.0 L115.3,1414.7 L115.9,1414.0 L116.5,1415.3 L117.1,1419.7 L117.7,1418.6 L118.3,1417.7 L118.9,1416.9 L119.5,1414.9 L120.1,1417.8 L120.7,1418.4 L121.3,1419.9 L121.9,1418.0 L122.5,1418.2 L123.1,1420.1 L123.7,1415.6 L124.3,1416.1 L124.9,1417.8 L125.5,1417.5 L126.2,1420.5 L126.8,1419.8 L127.4,1421.9 L128.0,1420.8 L128.6,1419.0 L129.2,1417.3 L129.8,1414.5 L130.4,1413.6 L131.0,1413.2 L131.6,1414.6 L132.2,1416.7 L132.8,1418.0 L133.4,1417.0 L134.0,1420.1 L134.6,1417.2 L135.2,1415.5 L135.8,1417.6 L136.4,1417.1 L137.0,1418.5 L137.6,1418.2 L138.2,1417.1 L138.8,1418.5 L139.4,1422.9 L140.0,1419.0 L140.7,1420.2 L141.3,1416.8 L141.9,1414.9 L142.5,1417.6 L143.1,1414.5 L143.7,1415.1 L144.3,1417.5 L144.9,1421.5 L145.5,1419.4 L146.1,1417.0 L146.7,1417.6 L147.3,1414.5 L147.9,1417.6 L148.5,1417.3 L149.1,1417.6 L149.7,1418.3 L150.3,1418.5 L150.9,1418.6 L151.5,1417.1 L152.1,1418.9 L152.7,1420.3 L153.3,1422.8 L153.9,1416.9 L154.5,1420.2 L155.1,1416.0 L155.8,1418.4 L156.4,1413.5 L157.0,1410.7 L157.6,1413.7 L158.2,1416.0 L158.8,1416.6 L159.4,1418.3 L160.0,1416.7 L160.6,1413.5 L161.2,1414.4 L161.8,1414.5 L162.4,1415.5 L163.0,1416.3 L163.6,1414.9 L164.2,1417.2 L164.8,1415.1 L165.4,1409.7 L166.0,1411.1 L166.6,1410.9 L167.2,1415.3 L167.8,1416.1 L168.4,1419.1 L169.0,1416.6 L169.6,1419.7 L170.3,1414.4 L170.9,1416.2 L171.5,1417.0 L172.1,1415.8 L172.7,1412.6 L173.3,1418.2 L173.9,1416.1 L174.5,1415.8 L175.1,1415.4 L175.7,1417.1 L176.3,1413.9 L176.9,1415.6 L177.5,1414.8 L178.2,1410.5 L178.8,1404.7 L179.5,1397.1 L180.1,1391.0 L180.7,1382.0 L181.4,1373.9 L182.0,1363.0 L182.6,1355.2 L183.2,1354.5 L183.8,1350.2 L184.5,1341.0 L185.1,1340.3 L185.7,1338.1 L186.3,1343.8 L186.9,1347.3 L187.5,1352.6 L188.1,1357.4 L188.8,1364.6 L189.5,1377.1 L190.2,1384.3 L191.0,1389.4 L191.8,1394.4" fill="none" stroke="#EE3B40" stroke-width="2.3" stroke-linejoin="round" stroke-linecap="round"/><g stroke="#000" stroke-width="2.2" fill="none"><line x1="25.4" y1="48.3" x2="25.4" y2="1442.3999999999999"/><line x1="294.8" y1="48.3" x2="294.8" y2="1442.3999999999999"/><line x1="24.299999999999997" y1="49.4" x2="295.90000000000003" y2="49.4"/><line x1="24.299999999999997" y1="218.7" x2="295.90000000000003" y2="218.7"/><line x1="24.299999999999997" y1="389.0" x2="295.90000000000003" y2="389.0"/><line x1="24.299999999999997" y1="547.7" x2="295.90000000000003" y2="547.7"/><line x1="24.299999999999997" y1="715.4" x2="295.90000000000003" y2="715.4"/><line x1="24.299999999999997" y1="888.6" x2="295.90000000000003" y2="888.6"/><line x1="24.299999999999997" y1="1067.2" x2="295.90000000000003" y2="1067.2"/><line x1="24.299999999999997" y1="1254.3" x2="295.90000000000003" y2="1254.3"/><line x1="24.299999999999997" y1="1441.3" x2="295.90000000000003" y2="1441.3"/><line x1="25.25" y1="49.4" x2="25.25" y2="41.80"/><line x1="44.47" y1="49.4" x2="44.47" y2="45.20"/><line x1="63.70" y1="49.4" x2="63.70" y2="41.80"/><line x1="82.92" y1="49.4" x2="82.92" y2="45.20"/><line x1="102.15" y1="49.4" x2="102.15" y2="41.80"/><line x1="121.38" y1="49.4" x2="121.38" y2="45.20"/><line x1="140.60" y1="49.4" x2="140.60" y2="41.80"/><line x1="159.82" y1="49.4" x2="159.82" y2="45.20"/><line x1="179.05" y1="49.4" x2="179.05" y2="41.80"/><line x1="198.28" y1="49.4" x2="198.28" y2="45.20"/><line x1="217.50" y1="49.4" x2="217.50" y2="41.80"/><line x1="236.72" y1="49.4" x2="236.72" y2="45.20"/><line x1="255.95" y1="49.4" x2="255.95" y2="41.80"/><line x1="275.18" y1="49.4" x2="275.18" y2="45.20"/><line x1="294.40" y1="49.4" x2="294.40" y2="41.80"/><line x1="44.47" y1="218.7" x2="44.47" y2="214.50"/><line x1="63.70" y1="218.7" x2="63.70" y2="211.10"/><line x1="82.92" y1="218.7" x2="82.92" y2="214.50"/><line x1="102.15" y1="218.7" x2="102.15" y2="211.10"/><line x1="121.38" y1="218.7" x2="121.38" y2="214.50"/><line x1="140.60" y1="218.7" x2="140.60" y2="211.10"/><line x1="159.82" y1="218.7" x2="159.82" y2="214.50"/><line x1="179.05" y1="218.7" x2="179.05" y2="211.10"/><line x1="198.28" y1="218.7" x2="198.28" y2="214.50"/><line x1="217.50" y1="218.7" x2="217.50" y2="211.10"/><line x1="236.72" y1="218.7" x2="236.72" y2="214.50"/><line x1="255.95" y1="218.7" x2="255.95" y2="211.10"/><line x1="275.18" y1="218.7" x2="275.18" y2="214.50"/><line x1="44.47" y1="389.0" x2="44.47" y2="384.80"/><line x1="63.70" y1="389.0" x2="63.70" y2="381.40"/><line x1="82.92" y1="389.0" x2="82.92" y2="384.80"/><line x1="102.15" y1="389.0" x2="102.15" y2="381.40"/><line x1="121.38" y1="389.0" x2="121.38" y2="384.80"/><line x1="140.60" y1="389.0" x2="140.60" y2="381.40"/><line x1="159.82" y1="389.0" x2="159.82" y2="384.80"/><line x1="179.05" y1="389.0" x2="179.05" y2="381.40"/><line x1="198.28" y1="389.0" x2="198.28" y2="384.80"/><line x1="217.50" y1="389.0" x2="217.50" y2="381.40"/><line x1="236.72" y1="389.0" x2="236.72" y2="384.80"/><line x1="255.95" y1="389.0" x2="255.95" y2="381.40"/><line x1="275.18" y1="389.0" x2="275.18" y2="384.80"/><line x1="44.47" y1="547.7" x2="44.47" y2="543.50"/><line x1="63.70" y1="547.7" x2="63.70" y2="540.10"/><line x1="82.92" y1="547.7" x2="82.92" y2="543.50"/><line x1="102.15" y1="547.7" x2="102.15" y2="540.10"/><line x1="121.38" y1="547.7" x2="121.38" y2="543.50"/><line x1="140.60" y1="547.7" x2="140.60" y2="540.10"/><line x1="159.82" y1="547.7" x2="159.82" y2="543.50"/><line x1="179.05" y1="547.7" x2="179.05" y2="540.10"/><line x1="198.28" y1="547.7" x2="198.28" y2="543.50"/><line x1="217.50" y1="547.7" x2="217.50" y2="540.10"/><line x1="236.72" y1="547.7" x2="236.72" y2="543.50"/><line x1="255.95" y1="547.7" x2="255.95" y2="540.10"/><line x1="275.18" y1="547.7" x2="275.18" y2="543.50"/><line x1="44.47" y1="715.4" x2="44.47" y2="711.20"/><line x1="63.70" y1="715.4" x2="63.70" y2="707.80"/><line x1="82.92" y1="715.4" x2="82.92" y2="711.20"/><line x1="102.15" y1="715.4" x2="102.15" y2="707.80"/><line x1="121.38" y1="715.4" x2="121.38" y2="711.20"/><line x1="140.60" y1="715.4" x2="140.60" y2="707.80"/><line x1="159.82" y1="715.4" x2="159.82" y2="711.20"/><line x1="179.05" y1="715.4" x2="179.05" y2="707.80"/><line x1="198.28" y1="715.4" x2="198.28" y2="711.20"/><line x1="217.50" y1="715.4" x2="217.50" y2="707.80"/><line x1="236.72" y1="715.4" x2="236.72" y2="711.20"/><line x1="255.95" y1="715.4" x2="255.95" y2="707.80"/><line x1="275.18" y1="715.4" x2="275.18" y2="711.20"/><line x1="44.47" y1="888.6" x2="44.47" y2="884.40"/><line x1="63.70" y1="888.6" x2="63.70" y2="881.00"/><line x1="82.92" y1="888.6" x2="82.92" y2="884.40"/><line x1="102.15" y1="888.6" x2="102.15" y2="881.00"/><line x1="121.38" y1="888.6" x2="121.38" y2="884.40"/><line x1="140.60" y1="888.6" x2="140.60" y2="881.00"/><line x1="159.82" y1="888.6" x2="159.82" y2="884.40"/><line x1="179.05" y1="888.6" x2="179.05" y2="881.00"/><line x1="198.28" y1="888.6" x2="198.28" y2="884.40"/><line x1="217.50" y1="888.6" x2="217.50" y2="881.00"/><line x1="236.72" y1="888.6" x2="236.72" y2="884.40"/><line x1="255.95" y1="888.6" x2="255.95" y2="881.00"/><line x1="275.18" y1="888.6" x2="275.18" y2="884.40"/><line x1="44.47" y1="1067.2" x2="44.47" y2="1063.00"/><line x1="63.70" y1="1067.2" x2="63.70" y2="1059.60"/><line x1="82.92" y1="1067.2" x2="82.92" y2="1063.00"/><line x1="102.15" y1="1067.2" x2="102.15" y2="1059.60"/><line x1="121.38" y1="1067.2" x2="121.38" y2="1063.00"/><line x1="140.60" y1="1067.2" x2="140.60" y2="1059.60"/><line x1="159.82" y1="1067.2" x2="159.82" y2="1063.00"/><line x1="179.05" y1="1067.2" x2="179.05" y2="1059.60"/><line x1="198.28" y1="1067.2" x2="198.28" y2="1063.00"/><line x1="217.50" y1="1067.2" x2="217.50" y2="1059.60"/><line x1="236.72" y1="1067.2" x2="236.72" y2="1063.00"/><line x1="255.95" y1="1067.2" x2="255.95" y2="1059.60"/><line x1="275.18" y1="1067.2" x2="275.18" y2="1063.00"/><line x1="44.47" y1="1254.3" x2="44.47" y2="1250.10"/><line x1="63.70" y1="1254.3" x2="63.70" y2="1246.70"/><line x1="82.92" y1="1254.3" x2="82.92" y2="1250.10"/><line x1="102.15" y1="1254.3" x2="102.15" y2="1246.70"/><line x1="121.38" y1="1254.3" x2="121.38" y2="1250.10"/><line x1="140.60" y1="1254.3" x2="140.60" y2="1246.70"/><line x1="159.82" y1="1254.3" x2="159.82" y2="1250.10"/><line x1="179.05" y1="1254.3" x2="179.05" y2="1246.70"/><line x1="198.28" y1="1254.3" x2="198.28" y2="1250.10"/><line x1="217.50" y1="1254.3" x2="217.50" y2="1246.70"/><line x1="236.72" y1="1254.3" x2="236.72" y2="1250.10"/><line x1="255.95" y1="1254.3" x2="255.95" y2="1246.70"/><line x1="275.18" y1="1254.3" x2="275.18" y2="1250.10"/><line x1="44.47" y1="1441.3" x2="44.47" y2="1437.10"/><line x1="63.70" y1="1441.3" x2="63.70" y2="1433.70"/><line x1="82.92" y1="1441.3" x2="82.92" y2="1437.10"/><line x1="102.15" y1="1441.3" x2="102.15" y2="1433.70"/><line x1="121.38" y1="1441.3" x2="121.38" y2="1437.10"/><line x1="140.60" y1="1441.3" x2="140.60" y2="1433.70"/><line x1="159.82" y1="1441.3" x2="159.82" y2="1437.10"/><line x1="179.05" y1="1441.3" x2="179.05" y2="1433.70"/><line x1="198.28" y1="1441.3" x2="198.28" y2="1437.10"/><line x1="217.50" y1="1441.3" x2="217.50" y2="1433.70"/><line x1="236.72" y1="1441.3" x2="236.72" y2="1437.10"/><line x1="255.95" y1="1441.3" x2="255.95" y2="1433.70"/><line x1="275.18" y1="1441.3" x2="275.18" y2="1437.10"/></g><text x="30.75" y="37.6" text-anchor="end" font-size="19.9">-3</text><text x="69.20" y="37.6" text-anchor="end" font-size="19.9">-2</text><text x="107.65" y="37.6" text-anchor="end" font-size="19.9">-1</text><text x="140.60" y="37.6" text-anchor="middle" font-size="19.9">0</text><text x="179.05" y="37.6" text-anchor="middle" font-size="19.9">1</text><text x="217.50" y="37.6" text-anchor="middle" font-size="19.9">2</text><text x="254.45" y="37.6" text-anchor="middle" font-size="19.9">3</text><text x="292.00" y="37.6" text-anchor="middle" font-size="19.9">4</text><text x="31.65" y="1468.2" text-anchor="end" font-size="19.9">-3</text><text x="70.10" y="1468.2" text-anchor="end" font-size="19.9">-2</text><text x="108.55" y="1468.2" text-anchor="end" font-size="19.9">-1</text><text x="141.50" y="1468.2" text-anchor="middle" font-size="19.9">0</text><text x="179.95" y="1468.2" text-anchor="middle" font-size="19.9">1</text><text x="218.40" y="1468.2" text-anchor="middle" font-size="19.9">2</text><text x="255.35" y="1468.2" text-anchor="middle" font-size="19.9">3</text><text x="292.90" y="1468.2" text-anchor="middle" font-size="19.9">4</text><text x="88.0" y="14.6" font-size="19.9">Sample bias (V)</text><text x="88.3" y="1489.2" font-size="19.9">Sample bias (V)</text><text x="2" y="20" font-size="19.5">a</text><text x="336" y="24" font-size="19.5">b</text><text transform="translate(15.2,818.5) rotate(-90)" font-size="19.9">d<tspan font-style="italic">I</tspan>/d<tspan font-style="italic">V</tspan> (arb. units)</text><text transform="translate(36.3,71.0) scale(1.055,1)" font-size="18.7" fill="#1272C4">linear C<tspan font-size="13.5" dy="4.3">9</tspan></text><text x="31.8" y="100.6" font-size="17.0" fill="#000" text-anchor="start">PIR: -1.75 V</text><line x1="73.4" y1="104" x2="73.4" y2="122.9" stroke="#000" stroke-width="2.4"/><path d="M64.9,116.9 L73.4,121.9 L81.9,116.9 L73.4,133.4 Z" fill="#000"/><text x="161.6" y="70.0" font-size="17.0" fill="#000" text-anchor="start">NIR: 1.46 V</text><line x1="196.9" y1="71.5" x2="196.9" y2="90.39999999999999" stroke="#000" stroke-width="2.4"/><path d="M188.4,84.4 L196.9,89.4 L205.4,84.4 L196.9,100.9 Z" fill="#000"/><text x="90.2" y="185.9" font-size="13.7" fill="#1272C4">E<tspan font-size="10.6" dy="3.4">gap</tspan><tspan dy="-3.4"> = 3.21 eV</tspan></text><text transform="translate(207.9,242.5) scale(1.055,1)" font-size="18.7" fill="#14AE5C">linear C<tspan font-size="13.5" dy="4.3">10</tspan></text><text x="31.8" y="238.8" font-size="17.0" fill="#000" text-anchor="start">PIR: -2.0 V</text><line x1="63.2" y1="243" x2="63.2" y2="262.3" stroke="#000" stroke-width="2.4"/><path d="M54.7,256.3 L63.2,261.3 L71.7,256.3 L63.2,272.8 Z" fill="#000"/><text x="208.4" y="274.8" font-size="17.0" fill="#000" text-anchor="start">NIR: 3.3 V</text><line x1="268.8" y1="281.4" x2="268.8" y2="300.5" stroke="#000" stroke-width="2.4"/><path d="M260.3,294.5 L268.8,299.5 L277.3,294.5 L268.8,311.0 Z" fill="#000"/><text x="118.4" y="362.1" font-size="13.7" fill="#14AE5C">E<tspan font-size="10.6" dy="3.4">gap</tspan><tspan dy="-3.4"> = 5.3 eV</tspan></text><text transform="translate(36.3,409.5) scale(1.055,1)" font-size="18.7" fill="#1272C4">linear C<tspan font-size="13.5" dy="4.3">13</tspan></text><text x="35.2" y="443.6" font-size="17.0" fill="#000" text-anchor="start">PIR: -1.65 V</text><line x1="76.7" y1="446.2" x2="76.7" y2="465.0" stroke="#000" stroke-width="2.4"/><path d="M68.2,459.0 L76.7,464.0 L85.2,459.0 L76.7,475.5 Z" fill="#000"/><text x="158.2" y="420.7" font-size="17.0" fill="#000" text-anchor="start">NIR: 1.3 V</text><line x1="191.4" y1="426.8" x2="191.4" y2="445.5" stroke="#000" stroke-width="2.4"/><path d="M182.9,439.5 L191.4,444.5 L199.9,439.5 L191.4,456.0 Z" fill="#000"/><text x="89.6" y="508.2" font-size="13.7" fill="#1272C4">E<tspan font-size="10.6" dy="3.4">gap</tspan><tspan dy="-3.4"> = 2.95 eV</tspan></text><text transform="translate(36.3,570.1) scale(1.055,1)" font-size="18.7" fill="#14AE5C">linear C<tspan font-size="13.5" dy="4.3">14</tspan></text><text x="30.9" y="604.6" font-size="17.0" fill="#000" text-anchor="start">PIR: -2.8 V</text><line x1="35.9" y1="614.4" x2="35.9" y2="631.5" stroke="#000" stroke-width="2.4"/><path d="M27.4,625.5 L35.9,630.5 L44.4,625.5 L35.9,642.0 Z" fill="#000"/><text x="198.6" y="573.2" font-size="17.0" fill="#000" text-anchor="start">NIR: 2.5 V</text><line x1="238.2" y1="582.2" x2="238.2" y2="601.5" stroke="#000" stroke-width="2.4"/><path d="M229.7,595.5 L238.2,600.5 L246.7,595.5 L238.2,612.0 Z" fill="#000"/><text x="112.6" y="677.8" font-size="13.7" fill="#14AE5C">E<tspan font-size="10.6" dy="3.4">gap</tspan><tspan dy="-3.4"> = 5.3 eV</tspan></text><text transform="translate(207.9,737.1) scale(1.055,1)" font-size="18.7" fill="#1272C4">linear C<tspan font-size="13.5" dy="4.3">15</tspan></text><text x="47.2" y="767.7" font-size="17.0" fill="#000" text-anchor="start">PIR: -1.6 V</text><line x1="78.9" y1="774.3" x2="78.9" y2="793.0" stroke="#000" stroke-width="2.4"/><path d="M70.4,787.0 L78.9,792.0 L87.4,787.0 L78.9,803.5 Z" fill="#000"/><text x="161.4" y="760.4" font-size="17.0" fill="#000" text-anchor="start">NIR: 1.2 V</text><line x1="188.3" y1="762.4" x2="188.3" y2="781.1" stroke="#000" stroke-width="2.4"/><path d="M179.8,775.1 L188.3,780.1 L196.8,775.1 L188.3,791.6 Z" fill="#000"/><text x="89.4" y="848.9" font-size="13.7" fill="#1272C4">E<tspan font-size="10.6" dy="3.4">gap</tspan><tspan dy="-3.4"> = 2.8 eV</tspan></text><text transform="translate(36.3,909.5) scale(1.055,1)" font-size="18.7" fill="#1272C4">linear C<tspan font-size="13.5" dy="4.3">17</tspan></text><text x="46.6" y="942.8" font-size="17.0" fill="#000" text-anchor="start">PIR: -1.63 V</text><line x1="77.8" y1="947.7" x2="77.8" y2="966.4" stroke="#000" stroke-width="2.4"/><path d="M69.3,960.4 L77.8,965.4 L86.3,960.4 L77.8,976.9 Z" fill="#000"/><text x="155.0" y="916.6" font-size="17.0" fill="#000" text-anchor="start">NIR: 1.16 V</text><line x1="185.7" y1="922.7" x2="185.7" y2="941.5" stroke="#000" stroke-width="2.4"/><path d="M177.2,935.5 L185.7,940.5 L194.2,935.5 L185.7,952.0 Z" fill="#000"/><text x="86.4" y="1010.2" font-size="13.7" fill="#1272C4">E<tspan font-size="10.6" dy="3.4">gap</tspan><tspan dy="-3.4"> = 2.79 eV</tspan></text><text transform="translate(207.9,1089.5) scale(1.055,1)" font-size="18.7" fill="#14AE5C">linear C<tspan font-size="13.5" dy="4.3">18</tspan></text><text x="28.8" y="1100.7" font-size="17.0" fill="#000" text-anchor="start">PIR: -2.75 V</text><line x1="32.7" y1="1109.3" x2="32.7" y2="1128.0" stroke="#000" stroke-width="2.4"/><path d="M24.2,1122.0 L32.7,1127.0 L41.2,1122.0 L32.7,1138.5 Z" fill="#000"/><text x="188.3" y="1110.6" font-size="17.0" fill="#000" text-anchor="start">NIR: 2.0 V</text><line x1="219.4" y1="1117.1" x2="219.4" y2="1130.3" stroke="#000" stroke-width="2.4"/><path d="M210.9,1124.3 L219.4,1129.3 L227.9,1124.3 L219.4,1139.8 Z" fill="#000"/><text x="82.4" y="1220.3" font-size="13.7" fill="#14AE5C">E<tspan font-size="10.6" dy="3.4">gap</tspan><tspan dy="-3.4"> ≈ 4.75 eV</tspan></text><text transform="translate(36.3,1279.2) scale(1.055,1)" font-size="18.7" fill="#1272C4">linear C<tspan font-size="13.5" dy="4.3">21</tspan></text><text x="30.9" y="1316.8" font-size="17.0" fill="#000" text-anchor="start">PIR: -1.6 V</text><line x1="80.9" y1="1323.5" x2="80.9" y2="1342.1999999999998" stroke="#000" stroke-width="2.4"/><path d="M72.4,1336.2 L80.9,1341.2 L89.4,1336.2 L80.9,1352.7 Z" fill="#000"/><text x="152.0" y="1288.8" font-size="17.0" fill="#000" text-anchor="start">NIR: 1.15 V</text><line x1="183.6" y1="1294.9" x2="183.6" y2="1313.6" stroke="#000" stroke-width="2.4"/><path d="M175.1,1307.6 L183.6,1312.6 L192.1,1307.6 L183.6,1324.1 Z" fill="#000"/><text x="115.1" y="1383.8" font-size="13" fill="#1272C4">E<tspan font-size="10" dy="3.2">gap</tspan><tspan dy="-3.2"> =</tspan></text><text x="110.4" y="1400.6" font-size="13" fill="#1272C4">2.75 eV</text>
</svg>
</body></html>
